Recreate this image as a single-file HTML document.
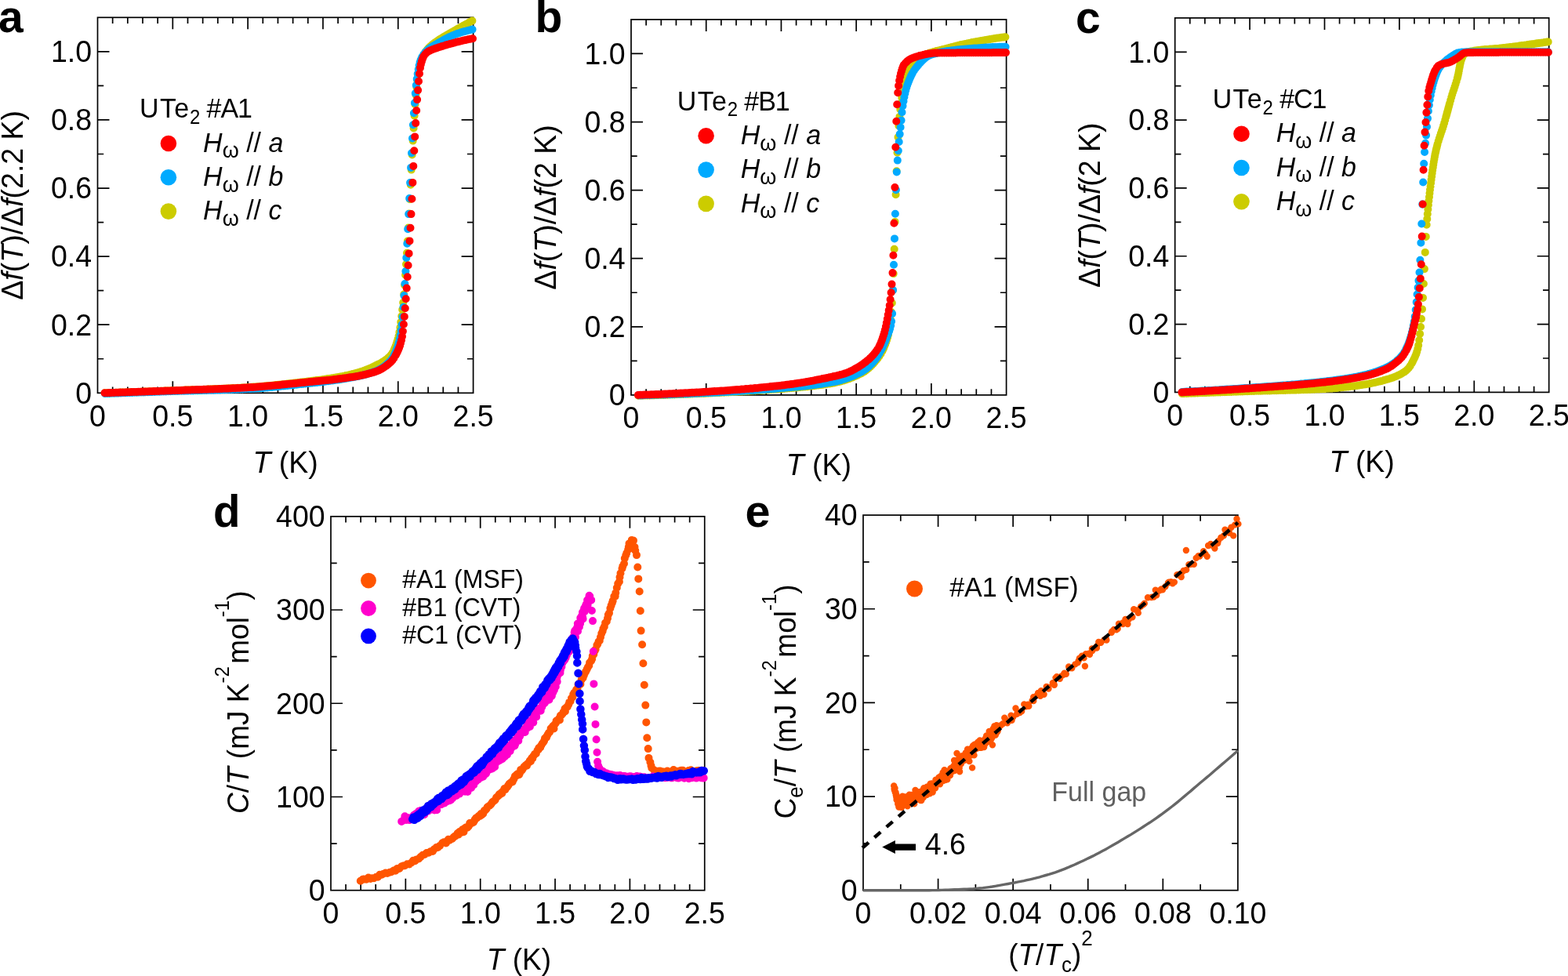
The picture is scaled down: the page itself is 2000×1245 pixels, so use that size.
<!DOCTYPE html><html><head><meta charset="utf-8"><style>html,body{margin:0;padding:0;background:#fff;overflow:hidden;}svg{display:block;}</style></head><body><svg width="2000" height="1245" viewBox="0 0 2000 1245">
<g font-family='"Liberation Sans", Arial, sans-serif' fill="#000">
<path d="M143.66 501.30v-7.7M143.66 22.30v7.7M162.83 501.30v-7.7M162.83 22.30v7.7M181.99 501.30v-7.7M181.99 22.30v7.7M201.16 501.30v-7.7M201.16 22.30v7.7M220.32 501.30v-15.0M220.32 22.30v15.0M239.48 501.30v-7.7M239.48 22.30v7.7M258.65 501.30v-7.7M258.65 22.30v7.7M277.81 501.30v-7.7M277.81 22.30v7.7M296.98 501.30v-7.7M296.98 22.30v7.7M316.14 501.30v-15.0M316.14 22.30v15.0M335.30 501.30v-7.7M335.30 22.30v7.7M354.47 501.30v-7.7M354.47 22.30v7.7M373.63 501.30v-7.7M373.63 22.30v7.7M392.80 501.30v-7.7M392.80 22.30v7.7M411.96 501.30v-15.0M411.96 22.30v15.0M431.12 501.30v-7.7M431.12 22.30v7.7M450.29 501.30v-7.7M450.29 22.30v7.7M469.45 501.30v-7.7M469.45 22.30v7.7M488.62 501.30v-7.7M488.62 22.30v7.7M507.78 501.30v-15.0M507.78 22.30v15.0M526.94 501.30v-7.7M526.94 22.30v7.7M546.11 501.30v-7.7M546.11 22.30v7.7M565.27 501.30v-7.7M565.27 22.30v7.7M584.44 501.30v-7.7M584.44 22.30v7.7M124.50 457.75h7.7M603.60 457.75h-7.7M124.50 414.21h15.0M603.60 414.21h-15.0M124.50 370.66h7.7M603.60 370.66h-7.7M124.50 327.12h15.0M603.60 327.12h-15.0M124.50 283.57h7.7M603.60 283.57h-7.7M124.50 240.03h15.0M603.60 240.03h-15.0M124.50 196.48h7.7M603.60 196.48h-7.7M124.50 152.94h15.0M603.60 152.94h-15.0M124.50 109.39h7.7M603.60 109.39h-7.7M124.50 65.85h15.0M603.60 65.85h-15.0" stroke="#000" stroke-width="1.7" fill="none"/>
<rect x="124.50" y="22.30" width="479.10" height="479.00" stroke="#000" stroke-width="1.7" fill="none"/>
<path d="M824.14 503.90v-7.7M824.14 24.90v7.7M843.29 503.90v-7.7M843.29 24.90v7.7M862.43 503.90v-7.7M862.43 24.90v7.7M881.58 503.90v-7.7M881.58 24.90v7.7M900.72 503.90v-15.0M900.72 24.90v15.0M919.86 503.90v-7.7M919.86 24.90v7.7M939.01 503.90v-7.7M939.01 24.90v7.7M958.15 503.90v-7.7M958.15 24.90v7.7M977.30 503.90v-7.7M977.30 24.90v7.7M996.44 503.90v-15.0M996.44 24.90v15.0M1015.58 503.90v-7.7M1015.58 24.90v7.7M1034.73 503.90v-7.7M1034.73 24.90v7.7M1053.87 503.90v-7.7M1053.87 24.90v7.7M1073.02 503.90v-7.7M1073.02 24.90v7.7M1092.16 503.90v-15.0M1092.16 24.90v15.0M1111.30 503.90v-7.7M1111.30 24.90v7.7M1130.45 503.90v-7.7M1130.45 24.90v7.7M1149.59 503.90v-7.7M1149.59 24.90v7.7M1168.74 503.90v-7.7M1168.74 24.90v7.7M1187.88 503.90v-15.0M1187.88 24.90v15.0M1207.02 503.90v-7.7M1207.02 24.90v7.7M1226.17 503.90v-7.7M1226.17 24.90v7.7M1245.31 503.90v-7.7M1245.31 24.90v7.7M1264.46 503.90v-7.7M1264.46 24.90v7.7M805.00 460.35h7.7M1283.60 460.35h-7.7M805.00 416.81h15.0M1283.60 416.81h-15.0M805.00 373.26h7.7M1283.60 373.26h-7.7M805.00 329.72h15.0M1283.60 329.72h-15.0M805.00 286.17h7.7M1283.60 286.17h-7.7M805.00 242.63h15.0M1283.60 242.63h-15.0M805.00 199.08h7.7M1283.60 199.08h-7.7M805.00 155.54h15.0M1283.60 155.54h-15.0M805.00 111.99h7.7M1283.60 111.99h-7.7M805.00 68.45h15.0M1283.60 68.45h-15.0" stroke="#000" stroke-width="1.7" fill="none"/>
<rect x="805.00" y="24.90" width="478.60" height="479.00" stroke="#000" stroke-width="1.7" fill="none"/>
<path d="M1517.78 500.40v-7.7M1517.78 22.90v7.7M1536.86 500.40v-7.7M1536.86 22.90v7.7M1555.94 500.40v-7.7M1555.94 22.90v7.7M1575.02 500.40v-7.7M1575.02 22.90v7.7M1594.10 500.40v-15.0M1594.10 22.90v15.0M1613.18 500.40v-7.7M1613.18 22.90v7.7M1632.26 500.40v-7.7M1632.26 22.90v7.7M1651.34 500.40v-7.7M1651.34 22.90v7.7M1670.42 500.40v-7.7M1670.42 22.90v7.7M1689.50 500.40v-15.0M1689.50 22.90v15.0M1708.58 500.40v-7.7M1708.58 22.90v7.7M1727.66 500.40v-7.7M1727.66 22.90v7.7M1746.74 500.40v-7.7M1746.74 22.90v7.7M1765.82 500.40v-7.7M1765.82 22.90v7.7M1784.90 500.40v-15.0M1784.90 22.90v15.0M1803.98 500.40v-7.7M1803.98 22.90v7.7M1823.06 500.40v-7.7M1823.06 22.90v7.7M1842.14 500.40v-7.7M1842.14 22.90v7.7M1861.22 500.40v-7.7M1861.22 22.90v7.7M1880.30 500.40v-15.0M1880.30 22.90v15.0M1899.38 500.40v-7.7M1899.38 22.90v7.7M1918.46 500.40v-7.7M1918.46 22.90v7.7M1937.54 500.40v-7.7M1937.54 22.90v7.7M1956.62 500.40v-7.7M1956.62 22.90v7.7M1498.70 456.99h7.7M1975.70 456.99h-7.7M1498.70 413.58h15.0M1975.70 413.58h-15.0M1498.70 370.17h7.7M1975.70 370.17h-7.7M1498.70 326.76h15.0M1975.70 326.76h-15.0M1498.70 283.35h7.7M1975.70 283.35h-7.7M1498.70 239.95h15.0M1975.70 239.95h-15.0M1498.70 196.54h7.7M1975.70 196.54h-7.7M1498.70 153.13h15.0M1975.70 153.13h-15.0M1498.70 109.72h7.7M1975.70 109.72h-7.7M1498.70 66.31h15.0M1975.70 66.31h-15.0" stroke="#000" stroke-width="1.7" fill="none"/>
<rect x="1498.70" y="22.90" width="477.00" height="477.50" stroke="#000" stroke-width="1.7" fill="none"/>
<path d="M441.07 1135.70v-7.7M441.07 658.80v7.7M460.14 1135.70v-7.7M460.14 658.80v7.7M479.21 1135.70v-7.7M479.21 658.80v7.7M498.28 1135.70v-7.7M498.28 658.80v7.7M517.35 1135.70v-15.0M517.35 658.80v15.0M536.42 1135.70v-7.7M536.42 658.80v7.7M555.49 1135.70v-7.7M555.49 658.80v7.7M574.56 1135.70v-7.7M574.56 658.80v7.7M593.63 1135.70v-7.7M593.63 658.80v7.7M612.70 1135.70v-15.0M612.70 658.80v15.0M631.77 1135.70v-7.7M631.77 658.80v7.7M650.84 1135.70v-7.7M650.84 658.80v7.7M669.91 1135.70v-7.7M669.91 658.80v7.7M688.98 1135.70v-7.7M688.98 658.80v7.7M708.05 1135.70v-15.0M708.05 658.80v15.0M727.12 1135.70v-7.7M727.12 658.80v7.7M746.19 1135.70v-7.7M746.19 658.80v7.7M765.26 1135.70v-7.7M765.26 658.80v7.7M784.33 1135.70v-7.7M784.33 658.80v7.7M803.40 1135.70v-15.0M803.40 658.80v15.0M822.47 1135.70v-7.7M822.47 658.80v7.7M841.54 1135.70v-7.7M841.54 658.80v7.7M860.61 1135.70v-7.7M860.61 658.80v7.7M879.68 1135.70v-7.7M879.68 658.80v7.7M422.00 1076.09h7.7M898.75 1076.09h-7.7M422.00 1016.48h15.0M898.75 1016.48h-15.0M422.00 956.86h7.7M898.75 956.86h-7.7M422.00 897.25h15.0M898.75 897.25h-15.0M422.00 837.64h7.7M898.75 837.64h-7.7M422.00 778.02h15.0M898.75 778.02h-15.0M422.00 718.41h7.7M898.75 718.41h-7.7" stroke="#000" stroke-width="1.7" fill="none"/>
<rect x="422.00" y="658.80" width="476.75" height="476.90" stroke="#000" stroke-width="1.7" fill="none"/>
<path d="M1148.79 1135.70v-7.7M1148.79 657.10v7.7M1196.58 1135.70v-15.0M1196.58 657.10v15.0M1244.37 1135.70v-7.7M1244.37 657.10v7.7M1292.16 1135.70v-15.0M1292.16 657.10v15.0M1339.95 1135.70v-7.7M1339.95 657.10v7.7M1387.74 1135.70v-15.0M1387.74 657.10v15.0M1435.53 1135.70v-7.7M1435.53 657.10v7.7M1483.32 1135.70v-15.0M1483.32 657.10v15.0M1531.11 1135.70v-7.7M1531.11 657.10v7.7M1101.00 1075.88h7.7M1578.90 1075.88h-7.7M1101.00 1016.05h15.0M1578.90 1016.05h-15.0M1101.00 956.23h7.7M1578.90 956.23h-7.7M1101.00 896.40h15.0M1578.90 896.40h-15.0M1101.00 836.58h7.7M1578.90 836.58h-7.7M1101.00 776.75h15.0M1578.90 776.75h-15.0M1101.00 716.92h7.7M1578.90 716.92h-7.7" stroke="#000" stroke-width="1.7" fill="none"/>
<rect x="1101.00" y="657.10" width="477.90" height="478.60" stroke="#000" stroke-width="1.7" fill="none"/>
<path d="M133.8 501.3h0M136.7 501.2h0M139.5 501.1h0M142.4 501.0h0M145.3 500.9h0M148.2 500.8h0M151.0 500.7h0M153.9 500.6h0M156.8 500.5h0M159.7 500.4h0M162.5 500.4h0M165.4 500.3h0M168.3 500.2h0M171.2 500.1h0M174.0 500.0h0M176.9 499.9h0M179.8 499.8h0M182.7 499.7h0M185.5 499.5h0M188.4 499.4h0M191.3 499.3h0M194.2 499.2h0M197.0 499.1h0M199.9 499.0h0M202.8 498.9h0M205.7 498.8h0M208.5 498.7h0M211.4 498.6h0M214.3 498.5h0M217.2 498.4h0M220.0 498.3h0M222.9 498.2h0M225.8 498.0h0M228.7 497.9h0M231.5 497.8h0M234.4 497.7h0M237.3 497.6h0M240.2 497.5h0M243.0 497.4h0M245.9 497.3h0M248.8 497.2h0M251.7 497.1h0M254.5 497.0h0M257.4 496.9h0M260.3 496.8h0M263.2 496.7h0M266.0 496.5h0M268.9 496.4h0M271.8 496.3h0M274.6 496.2h0M277.5 496.1h0M280.4 495.9h0M283.3 495.8h0M286.1 495.7h0M289.0 495.6h0M291.9 495.4h0M294.8 495.3h0M297.6 495.1h0M300.5 495.0h0M303.4 494.8h0M306.3 494.7h0M309.1 494.5h0M312.0 494.4h0M314.9 494.2h0M317.8 494.0h0M320.6 493.8h0M323.5 493.6h0M326.4 493.4h0M329.3 493.2h0M332.1 493.0h0M335.0 492.7h0M337.9 492.5h0M340.8 492.2h0M343.6 491.9h0M346.5 491.7h0M349.4 491.4h0M352.3 491.1h0M355.1 490.8h0M358.0 490.5h0M360.9 490.2h0M363.8 489.9h0M366.6 489.6h0M369.5 489.2h0M372.4 488.9h0M375.3 488.6h0M378.1 488.2h0M381.0 487.9h0M383.9 487.6h0M386.8 487.2h0M389.6 486.9h0M392.5 486.5h0M395.4 486.2h0M398.3 485.8h0M401.1 485.5h0M404.0 485.1h0M406.9 484.7h0M409.8 484.4h0M412.6 484.0h0M415.5 483.6h0M418.4 483.1h0M421.3 482.7h0M424.1 482.3h0M427.0 481.8h0M429.9 481.3h0M432.8 480.8h0M435.6 480.3h0M438.5 479.7h0M441.4 479.1h0M444.3 478.5h0M447.1 477.8h0M450.0 477.1h0M452.9 476.3h0M455.7 475.5h0M458.6 474.7h0M460.5 474.1h0M462.5 473.5h0M464.4 472.8h0M466.3 472.1h0M468.2 471.3h0M470.1 470.6h0M472.0 469.7h0M474.0 468.9h0M475.9 467.9h0M477.8 467.0h0M479.7 466.1h0M481.6 465.1h0M483.5 464.2h0M485.5 463.2h0M487.4 462.1h0M489.3 460.9h0M491.2 459.6h0M493.1 458.2h0M495.0 456.6h0M497.0 454.7h0M498.9 452.6h0M500.8 449.8h0M502.7 446.1h0M503.7 443.9h0M504.6 441.5h0M505.6 438.8h0M506.5 435.8h0M507.5 432.6h0M508.5 428.9h0M509.4 423.9h0M510.4 417.9h0M511.3 410.9h0M512.3 403.2h0M513.2 395.0h0M514.2 386.0h0M515.2 375.6h0M516.1 363.7h0M517.1 350.8h0M518.0 337.1h0M519.0 322.8h0M519.9 307.6h0M520.9 290.6h0M521.9 272.5h0M522.8 254.2h0M523.8 235.8h0M524.7 216.6h0M525.7 197.5h0M526.7 179.6h0M527.6 163.4h0M528.6 147.6h0M529.5 133.2h0M530.5 121.1h0M531.4 111.6h0M532.4 103.0h0M533.4 95.5h0M534.3 89.2h0M535.3 84.4h0M536.2 81.0h0M537.2 78.0h0M538.2 75.4h0M539.1 73.0h0M540.1 70.9h0M541.0 69.0h0M542.9 65.9h0M544.9 63.3h0M546.8 61.1h0M548.7 59.2h0M550.6 57.5h0M552.5 56.0h0M554.4 54.6h0M556.4 53.3h0M558.3 51.9h0M560.2 50.6h0M562.1 49.4h0M564.0 48.2h0M565.9 47.0h0M567.9 45.9h0M569.8 44.8h0M571.7 43.7h0M573.6 42.6h0M575.5 41.5h0M577.4 40.4h0M579.4 39.3h0M581.3 38.2h0M583.2 37.1h0M585.1 36.0h0M587.0 35.0h0M588.9 33.9h0M590.9 32.8h0M592.8 31.8h0M594.7 30.7h0M596.6 29.7h0M598.5 28.6h0M600.4 27.6h0M602.4 26.6h0" stroke="#cccc00" stroke-width="10" stroke-linecap="round" fill="none"/>
<path d="M134.1 502.1h0M137.0 502.0h0M139.8 501.9h0M142.7 501.8h0M145.6 501.7h0M148.5 501.6h0M151.3 501.5h0M154.2 501.4h0M157.1 501.3h0M160.0 501.2h0M162.8 501.1h0M165.7 501.0h0M168.6 500.9h0M171.5 500.8h0M174.3 500.7h0M177.2 500.6h0M180.1 500.5h0M183.0 500.4h0M185.8 500.3h0M188.7 500.2h0M191.6 500.1h0M194.4 500.0h0M197.3 499.9h0M200.2 499.8h0M203.1 499.7h0M205.9 499.6h0M208.8 499.5h0M211.7 499.4h0M214.6 499.3h0M217.4 499.2h0M220.3 499.1h0M223.2 499.0h0M226.1 498.9h0M228.9 498.8h0M231.8 498.8h0M234.7 498.7h0M237.6 498.6h0M240.4 498.5h0M243.3 498.4h0M246.2 498.4h0M249.1 498.3h0M251.9 498.2h0M254.8 498.1h0M257.7 498.1h0M260.6 498.0h0M263.4 497.9h0M266.3 497.8h0M269.2 497.7h0M272.1 497.7h0M274.9 497.6h0M277.8 497.5h0M280.7 497.4h0M283.6 497.3h0M286.4 497.2h0M289.3 497.1h0M292.2 497.0h0M295.1 496.9h0M297.9 496.8h0M300.8 496.7h0M303.7 496.6h0M306.6 496.5h0M309.4 496.4h0M312.3 496.3h0M315.2 496.1h0M318.1 496.0h0M320.9 495.8h0M323.8 495.7h0M326.7 495.5h0M329.6 495.3h0M332.4 495.1h0M335.3 494.9h0M338.2 494.6h0M341.1 494.4h0M343.9 494.1h0M346.8 493.9h0M349.7 493.6h0M352.6 493.3h0M355.4 493.1h0M358.3 492.8h0M361.2 492.5h0M364.0 492.2h0M366.9 491.9h0M369.8 491.6h0M372.7 491.3h0M375.5 491.0h0M378.4 490.7h0M381.3 490.3h0M384.2 490.0h0M387.0 489.7h0M389.9 489.4h0M392.8 489.1h0M395.7 488.8h0M398.5 488.5h0M401.4 488.2h0M404.3 487.9h0M407.2 487.6h0M410.0 487.2h0M412.9 486.9h0M415.8 486.5h0M418.7 486.2h0M421.5 485.8h0M424.4 485.4h0M427.3 485.0h0M430.2 484.6h0M433.0 484.2h0M435.9 483.7h0M438.8 483.3h0M441.7 482.8h0M444.5 482.3h0M447.4 481.8h0M450.3 481.3h0M453.2 480.7h0M456.0 480.1h0M458.9 479.5h0M461.8 478.9h0M464.7 478.1h0M467.5 477.4h0M470.4 476.5h0M472.3 475.9h0M474.2 475.3h0M476.2 474.6h0M478.1 473.9h0M480.0 473.2h0M481.9 472.3h0M483.8 471.3h0M485.7 470.2h0M487.7 469.0h0M489.6 467.7h0M491.5 466.2h0M493.4 464.6h0M495.3 462.9h0M497.2 461.0h0M499.2 458.8h0M501.1 456.1h0M503.0 452.6h0M503.9 450.6h0M504.9 448.3h0M505.9 445.9h0M506.8 443.2h0M507.8 440.3h0M508.7 436.9h0M509.7 432.6h0M510.7 427.4h0M511.6 421.3h0M512.6 414.2h0M513.5 404.6h0M514.5 391.8h0M515.4 377.1h0M516.4 362.0h0M517.4 346.1h0M518.3 328.9h0M519.3 310.7h0M520.2 292.3h0M521.2 273.1h0M522.2 253.1h0M523.1 233.1h0M524.1 213.9h0M525.0 195.2h0M526.0 176.5h0M526.9 159.2h0M527.9 144.2h0M528.9 131.2h0M529.8 119.1h0M530.8 108.8h0M531.7 100.7h0M532.7 94.2h0M533.7 88.5h0M534.6 83.6h0M535.6 79.6h0M536.5 76.7h0M537.5 74.5h0M538.4 72.6h0M540.4 69.4h0M542.3 66.9h0M544.2 64.9h0M546.1 63.1h0M548.0 61.6h0M549.9 60.3h0M551.9 59.0h0M553.8 57.9h0M555.7 56.8h0M557.6 55.7h0M559.5 54.6h0M561.4 53.5h0M563.4 52.4h0M565.3 51.3h0M567.2 50.2h0M569.1 49.2h0M571.0 48.2h0M572.9 47.3h0M574.9 46.4h0M576.8 45.6h0M578.7 44.8h0M580.6 44.0h0M582.5 43.3h0M584.4 42.6h0M586.4 42.0h0M588.3 41.3h0M590.2 40.8h0M593.1 39.9h0M595.9 39.2h0M598.8 38.4h0M601.7 37.8h0M602.6 37.6h0" stroke="#00aaff" stroke-width="10" stroke-linecap="round" fill="none"/>
<path d="M133.5 501.3h0M136.4 501.2h0M139.3 501.1h0M142.1 501.0h0M145.0 500.9h0M147.9 500.8h0M150.8 500.7h0M153.6 500.6h0M156.5 500.5h0M159.4 500.4h0M162.3 500.3h0M165.1 500.2h0M168.0 500.1h0M170.9 500.0h0M173.8 499.9h0M176.6 499.8h0M179.5 499.7h0M182.4 499.6h0M185.2 499.5h0M188.1 499.4h0M191.0 499.3h0M193.9 499.2h0M196.7 499.1h0M199.6 499.0h0M202.5 498.9h0M205.4 498.8h0M208.2 498.7h0M211.1 498.6h0M214.0 498.5h0M216.9 498.4h0M219.7 498.3h0M222.6 498.2h0M225.5 498.1h0M228.4 498.0h0M231.2 497.9h0M234.1 497.7h0M237.0 497.6h0M239.9 497.5h0M242.7 497.4h0M245.6 497.3h0M248.5 497.2h0M251.4 497.1h0M254.2 497.0h0M257.1 496.9h0M260.0 496.8h0M262.9 496.7h0M265.7 496.6h0M268.6 496.5h0M271.5 496.4h0M274.4 496.3h0M277.2 496.2h0M280.1 496.1h0M283.0 495.9h0M285.9 495.8h0M288.7 495.7h0M291.6 495.6h0M294.5 495.4h0M297.4 495.3h0M300.2 495.2h0M303.1 495.0h0M306.0 494.9h0M308.9 494.7h0M311.7 494.6h0M314.6 494.4h0M317.5 494.3h0M320.4 494.1h0M323.2 493.9h0M326.1 493.7h0M329.0 493.5h0M331.9 493.3h0M334.7 493.0h0M337.6 492.8h0M340.5 492.5h0M343.4 492.3h0M346.2 492.0h0M349.1 491.7h0M352.0 491.5h0M354.9 491.2h0M357.7 490.9h0M360.6 490.6h0M363.5 490.3h0M366.3 490.0h0M369.2 489.7h0M372.1 489.5h0M375.0 489.2h0M377.8 488.9h0M380.7 488.6h0M383.6 488.3h0M386.5 488.0h0M389.3 487.7h0M392.2 487.4h0M395.1 487.1h0M398.0 486.9h0M400.8 486.6h0M403.7 486.3h0M406.6 486.1h0M409.5 485.8h0M412.3 485.5h0M415.2 485.3h0M418.1 485.0h0M421.0 484.7h0M423.8 484.4h0M426.7 484.0h0M429.6 483.7h0M432.5 483.3h0M435.3 483.0h0M438.2 482.6h0M441.1 482.2h0M444.0 481.8h0M446.8 481.3h0M449.7 480.9h0M452.6 480.4h0M455.5 479.9h0M458.3 479.4h0M461.2 478.8h0M464.1 478.2h0M467.0 477.5h0M469.8 476.8h0M472.7 476.0h0M475.6 475.2h0M477.5 474.6h0M479.4 474.0h0M481.3 473.2h0M483.3 472.4h0M485.2 471.4h0M487.1 470.4h0M489.0 469.2h0M490.9 468.0h0M492.8 466.6h0M494.7 465.1h0M496.7 463.5h0M498.6 461.7h0M500.5 459.6h0M502.4 457.0h0M504.3 453.8h0M505.3 452.1h0M506.2 450.2h0M507.2 448.2h0M508.2 446.0h0M509.1 443.7h0M510.1 441.0h0M511.0 437.8h0M512.0 434.0h0M513.0 429.3h0M513.9 422.6h0M514.9 413.8h0M515.8 403.9h0M516.8 393.3h0M517.7 381.2h0M518.7 367.6h0M519.7 353.2h0M520.6 338.5h0M521.6 323.4h0M522.5 307.4h0M523.5 290.7h0M524.5 273.1h0M525.4 253.8h0M526.4 232.9h0M527.3 211.9h0M528.3 192.3h0M529.2 174.4h0M530.2 157.1h0M531.2 141.0h0M532.1 127.1h0M533.1 115.1h0M534.0 103.8h0M535.0 94.0h0M536.0 86.6h0M536.9 82.1h0M537.9 78.4h0M538.8 75.5h0M539.8 73.1h0M540.7 71.2h0M542.7 68.7h0M544.6 66.9h0M546.5 65.6h0M548.4 64.6h0M550.3 63.7h0M552.2 62.9h0M554.2 62.2h0M556.1 61.6h0M558.0 60.9h0M559.9 60.3h0M561.8 59.7h0M563.7 59.1h0M565.7 58.5h0M568.5 57.6h0M571.4 56.8h0M574.3 56.0h0M577.2 55.2h0M580.0 54.4h0M582.9 53.6h0M585.8 52.9h0M588.7 52.2h0M591.5 51.5h0M594.4 50.9h0M597.3 50.3h0M600.2 49.8h0M603.0 49.3h0" stroke="#ff0000" stroke-width="10" stroke-linecap="round" fill="none"/>
<path d="M814.3 504.8h0M817.2 504.7h0M820.0 504.6h0M822.9 504.5h0M825.8 504.5h0M828.6 504.4h0M831.5 504.3h0M834.4 504.2h0M837.3 504.1h0M840.1 504.0h0M843.0 504.0h0M845.9 503.9h0M848.7 503.8h0M851.6 503.7h0M854.5 503.6h0M857.4 503.5h0M860.2 503.4h0M863.1 503.3h0M866.0 503.1h0M868.8 503.0h0M871.7 502.9h0M874.6 502.8h0M877.5 502.7h0M880.3 502.6h0M883.2 502.5h0M886.1 502.3h0M888.9 502.2h0M891.8 502.1h0M894.7 502.0h0M897.6 501.9h0M900.4 501.7h0M903.3 501.6h0M906.2 501.5h0M909.0 501.3h0M911.9 501.2h0M914.8 501.1h0M917.7 500.9h0M920.5 500.8h0M923.4 500.7h0M926.3 500.5h0M929.1 500.4h0M932.0 500.2h0M934.9 500.1h0M937.8 499.9h0M940.6 499.8h0M943.5 499.6h0M946.4 499.4h0M949.3 499.3h0M952.1 499.1h0M955.0 498.9h0M957.9 498.8h0M960.7 498.6h0M963.6 498.4h0M966.5 498.2h0M969.4 498.0h0M972.2 497.8h0M975.1 497.6h0M978.0 497.4h0M980.8 497.2h0M983.7 497.0h0M986.6 496.8h0M989.5 496.6h0M992.3 496.4h0M995.2 496.2h0M998.1 495.9h0M1000.9 495.7h0M1003.8 495.5h0M1006.7 495.2h0M1009.6 495.0h0M1012.4 494.8h0M1015.3 494.5h0M1018.2 494.3h0M1021.0 494.0h0M1023.9 493.7h0M1026.8 493.4h0M1029.7 493.2h0M1032.5 492.8h0M1035.4 492.5h0M1038.3 492.2h0M1041.1 491.8h0M1044.0 491.5h0M1046.9 491.1h0M1049.8 490.7h0M1052.6 490.3h0M1055.5 489.8h0M1058.4 489.4h0M1061.2 488.9h0M1064.1 488.4h0M1067.0 487.8h0M1069.9 487.1h0M1072.7 486.4h0M1075.6 485.6h0M1077.5 485.0h0M1079.4 484.4h0M1081.3 483.7h0M1083.3 483.1h0M1085.2 482.3h0M1087.1 481.6h0M1089.0 480.8h0M1090.9 480.0h0M1092.8 479.1h0M1094.7 478.2h0M1096.7 477.3h0M1098.6 476.4h0M1100.5 475.3h0M1102.4 474.1h0M1104.3 472.7h0M1106.2 471.2h0M1108.1 469.6h0M1110.1 467.9h0M1112.0 466.0h0M1113.9 463.9h0M1115.8 461.8h0M1117.7 459.5h0M1119.6 457.1h0M1121.5 454.5h0M1123.5 451.4h0M1125.4 447.9h0M1126.3 446.0h0M1127.3 443.9h0M1128.2 441.6h0M1129.2 439.2h0M1130.2 436.5h0M1131.1 433.7h0M1132.1 430.6h0M1133.0 427.1h0M1134.0 422.1h0M1134.9 415.5h0M1135.9 407.5h0M1136.9 398.1h0M1137.8 386.5h0M1138.8 370.1h0M1139.7 349.1h0M1140.7 317.8h0M1141.6 282.9h0M1142.6 248.2h0M1143.6 218.3h0M1144.5 194.7h0M1145.5 175.0h0M1146.4 160.4h0M1147.4 148.9h0M1148.3 139.4h0M1149.3 131.5h0M1150.3 124.7h0M1151.2 118.4h0M1152.2 112.7h0M1153.1 107.6h0M1154.1 103.2h0M1155.0 99.8h0M1156.0 97.1h0M1157.0 94.7h0M1157.9 92.5h0M1158.9 90.5h0M1159.8 88.7h0M1161.7 85.6h0M1163.7 83.0h0M1165.6 80.8h0M1167.5 78.7h0M1169.4 76.8h0M1171.3 75.2h0M1173.2 73.7h0M1175.1 72.4h0M1177.1 71.2h0M1179.0 70.3h0M1180.9 69.5h0M1182.8 68.7h0M1184.7 68.0h0M1186.6 67.3h0M1188.6 66.7h0M1191.4 65.9h0M1194.3 65.1h0M1197.2 64.4h0M1200.0 63.7h0M1202.9 63.0h0M1205.8 62.2h0M1208.7 61.5h0M1211.5 60.7h0M1214.4 60.0h0M1217.3 59.2h0M1220.1 58.5h0M1223.0 57.8h0M1225.9 57.1h0M1228.8 56.5h0M1231.6 55.9h0M1234.5 55.3h0M1237.4 54.7h0M1240.2 54.1h0M1243.1 53.6h0M1246.0 53.0h0M1248.9 52.5h0M1251.7 52.0h0M1254.6 51.4h0M1257.5 50.9h0M1260.3 50.4h0M1263.2 50.0h0M1266.1 49.5h0M1269.0 49.0h0M1271.8 48.6h0M1274.7 48.2h0M1277.6 47.8h0M1280.4 47.4h0M1282.4 47.2h0" stroke="#cccc00" stroke-width="10" stroke-linecap="round" fill="none"/>
<path d="M814.6 504.3h0M817.4 504.3h0M820.3 504.2h0M823.2 504.1h0M826.1 504.0h0M828.9 504.0h0M831.8 503.9h0M834.7 503.8h0M837.5 503.7h0M840.4 503.6h0M843.3 503.5h0M846.2 503.5h0M849.0 503.4h0M851.9 503.3h0M854.8 503.2h0M857.6 503.1h0M860.5 503.0h0M863.4 502.8h0M866.3 502.7h0M869.1 502.6h0M872.0 502.5h0M874.9 502.4h0M877.7 502.3h0M880.6 502.2h0M883.5 502.0h0M886.4 501.9h0M889.2 501.8h0M892.1 501.7h0M895.0 501.5h0M897.8 501.4h0M900.7 501.3h0M903.6 501.2h0M906.5 501.0h0M909.3 500.9h0M912.2 500.7h0M915.1 500.6h0M917.9 500.5h0M920.8 500.3h0M923.7 500.2h0M926.6 500.0h0M929.4 499.8h0M932.3 499.7h0M935.2 499.5h0M938.1 499.4h0M940.9 499.2h0M943.8 499.0h0M946.7 498.8h0M949.5 498.6h0M952.4 498.5h0M955.3 498.3h0M958.2 498.1h0M961.0 497.9h0M963.9 497.7h0M966.8 497.5h0M969.6 497.3h0M972.5 497.1h0M975.4 496.9h0M978.3 496.6h0M981.1 496.4h0M984.0 496.2h0M986.9 496.0h0M989.7 495.7h0M992.6 495.5h0M995.5 495.3h0M998.4 495.0h0M1001.2 494.8h0M1004.1 494.5h0M1007.0 494.3h0M1009.8 494.0h0M1012.7 493.8h0M1015.6 493.5h0M1018.5 493.2h0M1021.3 493.0h0M1024.2 492.7h0M1027.1 492.4h0M1029.9 492.1h0M1032.8 491.7h0M1035.7 491.4h0M1038.6 491.0h0M1041.4 490.7h0M1044.3 490.3h0M1047.2 489.9h0M1050.0 489.4h0M1052.9 489.0h0M1055.8 488.5h0M1058.7 488.0h0M1061.5 487.5h0M1064.4 487.0h0M1067.3 486.4h0M1070.1 485.7h0M1073.0 484.9h0M1075.9 484.0h0M1077.8 483.4h0M1079.7 482.8h0M1081.6 482.1h0M1083.5 481.4h0M1085.5 480.7h0M1087.4 479.9h0M1089.3 479.1h0M1091.2 478.2h0M1093.1 477.3h0M1095.0 476.4h0M1096.9 475.5h0M1098.9 474.4h0M1100.8 473.3h0M1102.7 472.0h0M1104.6 470.6h0M1106.5 469.0h0M1108.4 467.4h0M1110.3 465.5h0M1112.3 463.6h0M1114.2 461.5h0M1116.1 459.2h0M1118.0 456.6h0M1119.9 453.8h0M1121.8 450.6h0M1123.7 447.1h0M1124.7 445.2h0M1125.7 443.2h0M1126.6 441.1h0M1127.6 439.0h0M1128.5 436.8h0M1129.5 434.4h0M1130.4 432.0h0M1131.4 429.5h0M1132.4 426.9h0M1133.3 424.4h0M1134.3 422.0h0M1135.2 419.1h0M1136.2 415.3h0M1137.1 410.0h0M1138.1 400.1h0M1139.1 370.1h0M1140.0 337.7h0M1141.0 304.4h0M1141.9 272.7h0M1142.9 242.3h0M1143.8 219.4h0M1144.8 204.6h0M1145.8 192.3h0M1146.7 181.0h0M1147.7 171.1h0M1148.6 162.4h0M1149.6 153.6h0M1150.5 143.2h0M1151.5 135.1h0M1152.5 129.1h0M1153.4 123.8h0M1154.4 119.2h0M1155.3 115.2h0M1156.3 111.8h0M1157.2 108.8h0M1158.2 106.1h0M1159.2 103.6h0M1160.1 101.2h0M1161.1 99.0h0M1162.0 96.9h0M1163.0 95.0h0M1163.9 93.2h0M1165.9 90.0h0M1167.8 87.3h0M1169.7 84.9h0M1171.6 82.6h0M1173.5 80.4h0M1175.4 78.4h0M1177.4 76.5h0M1179.3 74.8h0M1181.2 73.3h0M1183.1 72.0h0M1185.0 70.9h0M1186.9 70.1h0M1188.8 69.5h0M1191.7 68.7h0M1194.6 67.9h0M1197.5 67.3h0M1200.3 66.6h0M1203.2 66.1h0M1206.1 65.6h0M1208.9 65.1h0M1211.8 64.7h0M1214.7 64.3h0M1217.6 63.9h0M1220.4 63.6h0M1223.3 63.3h0M1226.2 63.0h0M1229.0 62.8h0M1231.9 62.5h0M1234.8 62.3h0M1237.7 62.1h0M1240.5 61.8h0M1243.4 61.6h0M1246.3 61.4h0M1249.1 61.2h0M1252.0 61.0h0M1254.9 60.8h0M1257.8 60.6h0M1260.6 60.4h0M1263.5 60.3h0M1266.4 60.1h0M1269.2 60.0h0M1272.1 59.9h0M1275.0 59.8h0M1277.9 59.8h0M1280.7 59.7h0M1282.6 59.7h0" stroke="#00aaff" stroke-width="10" stroke-linecap="round" fill="none"/>
<path d="M814.0 503.9h0M816.9 503.8h0M819.7 503.7h0M822.6 503.6h0M825.5 503.5h0M828.4 503.4h0M831.2 503.3h0M834.1 503.2h0M837.0 503.1h0M839.8 503.0h0M842.7 502.9h0M845.6 502.7h0M848.5 502.6h0M851.3 502.5h0M854.2 502.3h0M857.1 502.2h0M859.9 502.1h0M862.8 501.9h0M865.7 501.8h0M868.6 501.6h0M871.4 501.5h0M874.3 501.3h0M877.2 501.2h0M880.0 501.0h0M882.9 500.8h0M885.8 500.7h0M888.7 500.5h0M891.5 500.4h0M894.4 500.2h0M897.3 500.0h0M900.1 499.8h0M903.0 499.7h0M905.9 499.5h0M908.8 499.3h0M911.6 499.1h0M914.5 498.9h0M917.4 498.7h0M920.2 498.6h0M923.1 498.4h0M926.0 498.2h0M928.9 497.9h0M931.7 497.7h0M934.6 497.5h0M937.5 497.3h0M940.3 497.1h0M943.2 496.9h0M946.1 496.6h0M949.0 496.4h0M951.8 496.1h0M954.7 495.9h0M957.6 495.6h0M960.4 495.4h0M963.3 495.1h0M966.2 494.9h0M969.1 494.6h0M971.9 494.3h0M974.8 494.0h0M977.7 493.7h0M980.6 493.4h0M983.4 493.1h0M986.3 492.8h0M989.2 492.5h0M992.0 492.2h0M994.9 491.9h0M997.8 491.6h0M1000.7 491.2h0M1003.5 490.8h0M1006.4 490.5h0M1009.3 490.1h0M1012.1 489.7h0M1015.0 489.2h0M1017.9 488.8h0M1020.8 488.4h0M1023.6 487.9h0M1026.5 487.4h0M1029.4 486.9h0M1032.2 486.4h0M1035.1 485.9h0M1038.0 485.4h0M1040.9 484.8h0M1043.7 484.3h0M1046.6 483.7h0M1049.5 483.1h0M1052.3 482.6h0M1055.2 482.0h0M1058.1 481.3h0M1061.0 480.7h0M1063.8 480.1h0M1066.7 479.4h0M1069.6 478.7h0M1072.4 478.0h0M1075.3 477.2h0M1077.2 476.6h0M1079.1 475.9h0M1081.1 475.2h0M1083.0 474.5h0M1084.9 473.6h0M1086.8 472.7h0M1088.7 471.7h0M1090.6 470.6h0M1092.5 469.5h0M1094.5 468.4h0M1096.4 467.2h0M1098.3 466.0h0M1100.2 464.7h0M1102.1 463.3h0M1104.0 461.9h0M1105.9 460.3h0M1107.9 458.7h0M1109.8 456.9h0M1111.7 455.0h0M1113.6 453.0h0M1115.5 450.8h0M1117.4 448.3h0M1119.3 445.5h0M1121.3 442.2h0M1122.2 440.4h0M1123.2 438.3h0M1124.1 435.9h0M1125.1 433.4h0M1126.0 430.6h0M1127.0 427.6h0M1128.0 424.4h0M1128.9 420.7h0M1129.9 416.5h0M1130.8 411.9h0M1131.8 406.9h0M1132.7 401.6h0M1133.7 395.9h0M1134.7 389.5h0M1135.6 382.0h0M1136.6 373.3h0M1137.5 362.6h0M1138.5 348.1h0M1139.4 325.8h0M1140.4 284.8h0M1141.4 239.0h0M1142.3 187.7h0M1143.3 154.8h0M1144.2 133.3h0M1145.2 118.2h0M1146.1 109.4h0M1147.1 102.8h0M1148.1 97.8h0M1149.0 93.8h0M1150.0 90.4h0M1150.9 87.4h0M1151.9 84.8h0M1152.8 82.9h0M1154.8 80.5h0M1156.7 78.6h0M1158.6 77.0h0M1160.5 75.7h0M1162.4 74.7h0M1164.3 73.9h0M1166.2 73.2h0M1168.2 72.6h0M1170.1 72.0h0M1172.9 71.1h0M1175.8 70.4h0M1178.7 69.7h0M1181.6 69.1h0M1184.4 68.6h0M1187.3 68.2h0M1190.2 67.8h0M1193.0 67.6h0M1195.9 67.6h0M1198.8 67.5h0M1201.7 67.5h0M1204.5 67.5h0M1207.4 67.5h0M1210.3 67.4h0M1213.2 67.4h0M1216.0 67.4h0M1218.9 67.4h0M1221.8 67.3h0M1224.6 67.3h0M1227.5 67.3h0M1230.4 67.3h0M1233.3 67.3h0M1236.1 67.2h0M1239.0 67.2h0M1241.9 67.2h0M1244.7 67.2h0M1247.6 67.2h0M1250.5 67.2h0M1253.4 67.2h0M1256.2 67.2h0M1259.1 67.2h0M1262.0 67.2h0M1264.8 67.2h0M1267.7 67.1h0M1270.6 67.1h0M1273.5 67.1h0M1276.3 67.1h0M1279.2 67.1h0M1282.1 67.1h0M1283.0 67.1h0" stroke="#ff0000" stroke-width="10" stroke-linecap="round" fill="none"/>
<path d="M1507.8 502.1h0M1510.6 502.0h0M1513.5 501.9h0M1516.3 501.8h0M1519.2 501.7h0M1522.1 501.6h0M1524.9 501.5h0M1527.8 501.4h0M1530.7 501.3h0M1533.5 501.2h0M1536.4 501.1h0M1539.2 501.0h0M1542.1 500.9h0M1545.0 500.8h0M1547.8 500.7h0M1550.7 500.6h0M1553.6 500.5h0M1556.4 500.4h0M1559.3 500.3h0M1562.1 500.2h0M1565.0 500.1h0M1567.9 500.0h0M1570.7 499.9h0M1573.6 499.8h0M1576.5 499.7h0M1579.3 499.6h0M1582.2 499.5h0M1585.0 499.4h0M1587.9 499.3h0M1590.8 499.2h0M1593.6 499.1h0M1596.5 499.0h0M1599.3 498.9h0M1602.2 498.8h0M1605.1 498.8h0M1607.9 498.7h0M1610.8 498.6h0M1613.7 498.5h0M1616.5 498.4h0M1619.4 498.4h0M1622.2 498.3h0M1625.1 498.2h0M1628.0 498.2h0M1630.8 498.1h0M1633.7 498.0h0M1636.6 497.9h0M1639.4 497.9h0M1642.3 497.8h0M1645.1 497.7h0M1648.0 497.6h0M1650.9 497.6h0M1653.7 497.5h0M1656.6 497.4h0M1659.4 497.3h0M1662.3 497.2h0M1665.2 497.1h0M1668.0 497.0h0M1670.9 496.9h0M1673.8 496.8h0M1676.6 496.7h0M1679.5 496.5h0M1682.3 496.4h0M1685.2 496.3h0M1688.1 496.1h0M1690.9 496.0h0M1693.8 495.8h0M1696.7 495.6h0M1699.5 495.4h0M1702.4 495.2h0M1705.2 494.9h0M1708.1 494.6h0M1711.0 494.3h0M1713.8 494.0h0M1716.7 493.7h0M1719.6 493.4h0M1722.4 493.0h0M1725.3 492.7h0M1728.1 492.3h0M1731.0 491.9h0M1733.9 491.5h0M1736.7 491.1h0M1739.6 490.6h0M1742.4 490.2h0M1745.3 489.7h0M1748.2 489.1h0M1751.0 488.5h0M1753.9 487.9h0M1756.8 487.3h0M1759.6 486.6h0M1762.5 485.9h0M1765.3 485.1h0M1768.2 484.3h0M1771.1 483.5h0M1773.9 482.6h0M1775.8 481.9h0M1777.7 481.2h0M1779.7 480.5h0M1781.6 479.7h0M1783.5 478.8h0M1785.4 477.9h0M1787.3 476.9h0M1789.2 475.8h0M1791.1 474.6h0M1793.0 473.2h0M1794.9 471.5h0M1796.8 469.5h0M1798.7 466.9h0M1800.6 463.7h0M1801.6 461.9h0M1802.5 460.0h0M1803.5 458.0h0M1804.5 456.0h0M1805.4 453.8h0M1806.4 451.4h0M1807.3 448.6h0M1808.3 445.1h0M1809.2 440.6h0M1810.2 434.0h0M1811.1 425.9h0M1812.1 417.0h0M1813.0 406.7h0M1814.0 394.4h0M1815.0 379.9h0M1815.9 362.0h0M1816.9 343.1h0M1817.8 321.9h0M1818.8 301.9h0M1819.7 286.8h0" stroke="#cccc00" stroke-width="10" stroke-linecap="round" fill="none"/>
<path d="M1820.3 279.4h0M1820.8 273.0h0M1821.4 267.1h0M1821.9 261.5h0M1822.4 256.3h0M1823.0 251.3h0M1823.5 246.6h0M1824.0 242.1h0M1824.6 237.7h0M1825.1 233.5h0M1825.6 229.2h0M1826.2 225.1h0M1826.7 221.1h0M1827.2 217.3h0M1827.8 213.5h0M1828.3 210.0h0M1828.8 206.5h0M1829.4 203.3h0M1829.9 200.3h0M1830.4 197.4h0M1831.0 194.8h0M1831.5 192.4h0M1832.0 190.1h0M1832.6 187.9h0M1833.1 185.8h0M1833.6 183.8h0M1834.7 180.1h0M1835.8 176.6h0M1836.9 173.3h0M1837.9 170.1h0M1839.0 166.9h0M1840.1 163.7h0M1841.1 160.4h0M1842.2 156.9h0M1843.3 153.1h0M1844.3 149.3h0M1844.9 147.3h0M1845.4 145.4h0M1845.9 143.4h0M1846.5 141.5h0M1847.0 139.5h0M1847.5 137.6h0M1848.1 135.6h0M1848.6 133.6h0M1849.1 131.7h0M1850.2 127.9h0M1851.3 124.1h0M1852.3 120.5h0M1853.4 117.1h0M1854.5 113.9h0M1855.6 110.6h0M1856.6 107.3h0M1857.7 103.8h0M1858.8 100.0h0M1859.3 98.0h0M1859.8 95.7h0M1860.4 93.1h0M1860.9 90.2h0M1861.4 87.3h0M1862.0 84.4h0M1862.5 81.7h0M1863.0 79.4h0M1864.1 76.1h0M1865.2 73.3h0M1866.2 71.0h0M1867.8 69.1h0M1869.4 67.8h0M1871.6 66.6h0M1873.7 66.1h0M1875.9 65.6h0M1878.0 65.2h0M1880.1 64.8h0M1882.3 64.5h0M1884.4 64.2h0M1886.5 63.9h0M1888.7 63.7h0M1890.8 63.5h0M1893.0 63.3h0M1895.1 63.1h0M1897.2 62.9h0M1899.4 62.8h0M1901.5 62.6h0M1903.6 62.5h0M1905.8 62.3h0M1907.9 62.1h0M1910.0 62.0h0M1912.2 61.8h0M1914.3 61.6h0M1916.5 61.3h0M1918.6 61.1h0M1920.7 60.8h0M1922.9 60.5h0M1925.0 60.3h0M1927.1 60.0h0M1929.3 59.7h0M1931.4 59.4h0M1933.6 59.2h0M1935.7 58.9h0M1937.8 58.6h0M1940.0 58.3h0M1942.1 58.0h0M1944.2 57.7h0M1946.4 57.4h0M1948.5 57.1h0M1950.6 56.8h0M1952.8 56.5h0M1954.9 56.2h0M1957.1 55.9h0M1959.2 55.6h0M1961.3 55.3h0M1963.5 55.0h0M1965.6 54.7h0M1967.7 54.4h0M1969.9 54.1h0M1972.0 53.8h0M1974.2 53.4h0M1974.7 53.4h0" stroke="#cccc00" stroke-width="10" stroke-linecap="round" fill="none"/>
<path d="M1508.0 499.9h0M1510.9 499.8h0M1513.8 499.6h0M1516.6 499.5h0M1519.5 499.3h0M1522.4 499.2h0M1525.2 499.0h0M1528.1 498.9h0M1530.9 498.7h0M1533.8 498.6h0M1536.7 498.4h0M1539.5 498.2h0M1542.4 498.1h0M1545.3 497.9h0M1548.1 497.7h0M1551.0 497.5h0M1553.8 497.4h0M1556.7 497.2h0M1559.6 497.0h0M1562.4 496.8h0M1565.3 496.6h0M1568.2 496.5h0M1571.0 496.3h0M1573.9 496.1h0M1576.7 495.9h0M1579.6 495.7h0M1582.5 495.5h0M1585.3 495.3h0M1588.2 495.1h0M1591.0 494.9h0M1593.9 494.7h0M1596.8 494.5h0M1599.6 494.3h0M1602.5 494.1h0M1605.4 493.9h0M1608.2 493.7h0M1611.1 493.5h0M1613.9 493.3h0M1616.8 493.1h0M1619.7 492.9h0M1622.5 492.7h0M1625.4 492.5h0M1628.3 492.2h0M1631.1 492.0h0M1634.0 491.8h0M1636.8 491.6h0M1639.7 491.4h0M1642.6 491.1h0M1645.4 490.9h0M1648.3 490.6h0M1651.1 490.4h0M1654.0 490.2h0M1656.9 489.9h0M1659.7 489.6h0M1662.6 489.4h0M1665.5 489.1h0M1668.3 488.8h0M1671.2 488.5h0M1674.0 488.3h0M1676.9 488.0h0M1679.8 487.7h0M1682.6 487.4h0M1685.5 487.0h0M1688.4 486.7h0M1691.2 486.4h0M1694.1 486.1h0M1696.9 485.7h0M1699.8 485.4h0M1702.7 485.0h0M1705.5 484.6h0M1708.4 484.2h0M1711.3 483.8h0M1714.1 483.4h0M1717.0 482.9h0M1719.8 482.5h0M1722.7 482.0h0M1725.6 481.5h0M1728.4 480.9h0M1731.3 480.4h0M1734.1 479.8h0M1737.0 479.2h0M1739.9 478.5h0M1742.7 477.9h0M1745.6 477.1h0M1748.5 476.3h0M1751.3 475.5h0M1753.2 474.8h0M1755.1 474.2h0M1757.0 473.5h0M1759.0 472.8h0M1760.9 472.1h0M1762.8 471.3h0M1764.7 470.5h0M1766.6 469.7h0M1768.5 468.8h0M1770.4 467.9h0M1772.3 466.9h0M1774.2 465.8h0M1776.1 464.6h0M1778.0 463.2h0M1779.9 461.7h0M1781.8 460.1h0M1783.8 458.4h0M1785.7 456.5h0M1787.6 454.4h0M1789.5 452.0h0M1791.4 449.0h0M1793.3 445.5h0M1794.2 443.6h0M1795.2 441.5h0M1796.2 439.2h0M1797.1 436.8h0M1798.1 434.1h0M1799.0 431.1h0M1800.0 427.8h0M1800.9 424.1h0M1801.9 420.0h0M1802.8 415.4h0M1803.8 410.3h0M1804.7 403.9h0M1805.7 395.2h0M1806.7 385.4h0M1807.6 375.5h0M1808.6 366.7h0M1809.5 358.1h0M1810.5 347.5h0M1811.4 331.8h0M1812.4 309.8h0M1813.3 285.5h0M1814.3 260.6h0M1815.2 232.5h0M1816.2 208.7h0M1817.1 194.0h0M1818.1 182.8h0M1819.1 172.6h0M1820.0 161.7h0M1821.0 151.1h0M1821.9 141.7h0M1822.9 134.1h0M1823.8 127.3h0M1824.8 121.5h0M1825.7 116.5h0M1826.7 112.2h0M1827.6 108.3h0M1828.6 104.8h0M1829.5 101.6h0M1830.5 98.7h0M1831.5 95.9h0M1832.4 93.4h0M1833.4 91.1h0M1834.3 89.2h0M1836.2 86.2h0M1838.1 83.6h0M1840.0 81.4h0M1841.9 79.5h0M1843.9 77.7h0M1845.8 76.1h0M1847.7 74.7h0M1849.6 73.3h0M1851.5 72.1h0M1853.4 70.8h0M1855.3 69.6h0M1857.2 68.4h0M1859.1 67.6h0M1862.0 67.0h0M1864.8 66.6h0M1867.7 66.4h0M1870.6 66.3h0M1873.4 66.3h0M1876.3 66.3h0M1879.2 66.3h0M1882.0 66.3h0M1884.9 66.3h0M1887.7 66.3h0M1890.6 66.3h0M1893.5 66.3h0M1896.3 66.3h0M1899.2 66.3h0M1902.1 66.3h0M1904.9 66.3h0M1907.8 66.3h0M1910.6 66.3h0M1913.5 66.3h0M1916.4 66.3h0M1919.2 66.3h0M1922.1 66.3h0M1924.9 66.3h0M1927.8 66.3h0M1930.7 66.3h0M1933.5 66.3h0M1936.4 66.3h0M1939.3 66.3h0M1942.1 66.3h0M1945.0 66.3h0M1947.8 66.3h0M1950.7 66.3h0M1953.6 66.3h0M1956.4 66.3h0M1959.3 66.3h0M1962.2 66.3h0M1965.0 66.3h0M1967.9 66.3h0M1970.7 66.3h0M1973.6 66.3h0M1974.6 66.3h0" stroke="#00aaff" stroke-width="10" stroke-linecap="round" fill="none"/>
<path d="M1507.5 500.4h0M1510.3 500.3h0M1513.2 500.1h0M1516.1 500.0h0M1518.9 499.8h0M1521.8 499.7h0M1524.6 499.5h0M1527.5 499.4h0M1530.4 499.2h0M1533.2 499.1h0M1536.1 498.9h0M1539.0 498.8h0M1541.8 498.6h0M1544.7 498.5h0M1547.5 498.3h0M1550.4 498.1h0M1553.3 498.0h0M1556.1 497.8h0M1559.0 497.6h0M1561.9 497.4h0M1564.7 497.3h0M1567.6 497.1h0M1570.4 496.9h0M1573.3 496.7h0M1576.2 496.5h0M1579.0 496.4h0M1581.9 496.2h0M1584.8 496.0h0M1587.6 495.8h0M1590.5 495.6h0M1593.3 495.4h0M1596.2 495.2h0M1599.1 495.0h0M1601.9 494.8h0M1604.8 494.6h0M1607.6 494.4h0M1610.5 494.2h0M1613.4 494.0h0M1616.2 493.8h0M1619.1 493.6h0M1622.0 493.4h0M1624.8 493.2h0M1627.7 493.0h0M1630.5 492.8h0M1633.4 492.6h0M1636.3 492.4h0M1639.1 492.1h0M1642.0 491.9h0M1644.9 491.7h0M1647.7 491.5h0M1650.6 491.2h0M1653.4 491.0h0M1656.3 490.7h0M1659.2 490.5h0M1662.0 490.2h0M1664.9 490.0h0M1667.7 489.7h0M1670.6 489.4h0M1673.5 489.2h0M1676.3 488.9h0M1679.2 488.6h0M1682.1 488.3h0M1684.9 488.0h0M1687.8 487.7h0M1690.6 487.4h0M1693.5 487.1h0M1696.4 486.7h0M1699.2 486.4h0M1702.1 486.0h0M1705.0 485.7h0M1707.8 485.3h0M1710.7 484.9h0M1713.5 484.5h0M1716.4 484.1h0M1719.3 483.7h0M1722.1 483.2h0M1725.0 482.8h0M1727.9 482.3h0M1730.7 481.7h0M1733.6 481.2h0M1736.4 480.6h0M1739.3 480.0h0M1742.2 479.4h0M1745.0 478.7h0M1747.9 477.9h0M1750.7 477.1h0M1753.6 476.2h0M1755.5 475.6h0M1757.4 474.9h0M1759.3 474.3h0M1761.2 473.6h0M1763.1 472.8h0M1765.1 472.0h0M1767.0 471.2h0M1768.9 470.4h0M1770.8 469.4h0M1772.7 468.3h0M1774.6 467.1h0M1776.5 465.7h0M1778.4 464.2h0M1780.3 462.7h0M1782.2 461.1h0M1784.1 459.6h0M1786.0 457.8h0M1788.0 455.7h0M1789.9 453.2h0M1791.8 450.3h0M1793.7 447.0h0M1794.6 445.1h0M1795.6 443.1h0M1796.5 440.9h0M1797.5 438.4h0M1798.4 435.4h0M1799.4 432.1h0M1800.4 428.6h0M1801.3 424.8h0M1802.3 420.8h0M1803.2 416.8h0M1804.2 412.8h0M1805.1 408.8h0M1806.1 404.7h0M1807.0 400.1h0M1808.0 394.7h0M1808.9 388.1h0M1809.9 378.9h0M1810.8 367.8h0M1811.8 355.4h0M1812.8 337.3h0M1813.7 301.6h0M1814.7 260.5h0M1815.6 216.7h0M1816.6 185.8h0M1817.5 168.6h0M1818.5 156.0h0M1819.4 143.6h0M1820.4 133.8h0M1821.3 123.4h0M1822.3 116.0h0M1823.3 111.6h0M1824.2 108.2h0M1825.2 105.1h0M1826.1 101.9h0M1827.1 98.7h0M1828.0 95.8h0M1829.0 93.2h0M1829.9 91.1h0M1830.9 89.3h0M1832.8 86.1h0M1834.7 83.9h0M1836.6 82.9h0M1838.5 82.1h0M1841.4 81.3h0M1844.2 80.6h0M1847.1 80.0h0M1849.0 79.4h0M1850.9 78.6h0M1852.8 77.6h0M1854.7 76.5h0M1856.6 75.4h0M1858.5 74.3h0M1860.5 73.0h0M1862.4 71.4h0M1864.3 69.8h0M1866.2 68.4h0M1868.1 67.4h0M1871.0 67.2h0M1873.8 67.1h0M1876.7 67.1h0M1879.5 67.1h0M1882.4 67.0h0M1885.3 67.0h0M1888.1 67.0h0M1891.0 67.0h0M1893.8 67.0h0M1896.7 66.9h0M1899.6 66.9h0M1902.4 66.9h0M1905.3 66.9h0M1908.2 66.9h0M1911.0 66.9h0M1913.9 66.8h0M1916.7 66.8h0M1919.6 66.8h0M1922.5 66.8h0M1925.3 66.8h0M1928.2 66.8h0M1931.1 66.8h0M1933.9 66.8h0M1936.8 66.8h0M1939.6 66.8h0M1942.5 66.8h0M1945.4 66.8h0M1948.2 66.8h0M1951.1 66.8h0M1953.9 66.8h0M1956.8 66.7h0M1959.7 66.7h0M1962.5 66.7h0M1965.4 66.7h0M1968.3 66.7h0M1971.1 66.7h0M1974.0 66.7h0M1974.9 66.7h0" stroke="#ff0000" stroke-width="10" stroke-linecap="round" fill="none"/>
<path d="M459.8 1123.8h0M462.6 1121.8h0M464.6 1121.5h0M467.4 1121.7h0M469.9 1119.5h0M472.6 1120.9h0M474.8 1120.2h0M477.0 1120.2h0M479.8 1118.7h0M482.0 1118.8h0M484.3 1115.8h0M487.1 1115.8h0M488.9 1114.8h0M491.8 1113.6h0M494.0 1113.9h0M497.2 1112.7h0M499.2 1112.3h0M502.1 1110.6h0M504.5 1110.8h0M506.8 1107.9h0M509.4 1107.9h0M512.1 1105.2h0M514.1 1104.5h0M516.3 1104.2h0M519.4 1102.2h0M522.2 1102.5h0M524.4 1100.8h0M527.0 1097.7h0M529.4 1098.2h0M531.1 1096.5h0M534.1 1095.4h0M536.5 1093.1h0M539.2 1090.8h0M541.7 1090.0h0M544.2 1088.1h0M546.9 1087.7h0M549.0 1086.2h0M551.9 1085.9h0M553.5 1083.5h0M556.6 1081.1h0M558.6 1081.0h0M561.0 1078.9h0M564.3 1075.3h0M566.3 1074.2h0M568.9 1075.5h0M571.9 1070.8h0M573.6 1071.7h0M576.8 1069.9h0M578.5 1068.1h0M580.0 1066.7h0M581.0 1066.5h0M582.6 1065.1h0M583.6 1063.0h0M584.8 1064.6h0M586.1 1061.0h0M587.8 1062.1h0M589.3 1060.6h0M589.8 1058.2h0M591.5 1061.2h0M592.1 1057.0h0M593.8 1055.8h0M594.8 1055.3h0M596.2 1055.7h0M597.4 1054.5h0M598.5 1052.8h0M599.2 1050.0h0M601.3 1049.8h0M602.5 1049.8h0M603.9 1049.0h0M605.1 1046.9h0M605.8 1045.2h0M607.1 1043.6h0M608.3 1043.4h0M609.8 1042.0h0M610.4 1041.0h0M612.3 1041.0h0M613.6 1038.0h0M614.5 1039.4h0M616.2 1037.9h0M617.8 1034.0h0M618.5 1034.0h0M619.8 1032.8h0M621.0 1031.1h0M621.7 1029.5h0M623.2 1028.5h0M624.5 1027.7h0M626.1 1026.1h0M627.2 1024.6h0M628.2 1023.1h0M629.4 1022.3h0M630.8 1021.2h0M631.7 1020.3h0M633.1 1017.3h0M634.5 1016.2h0M635.9 1014.9h0M636.7 1013.3h0M638.6 1012.9h0M639.1 1011.5h0M640.3 1012.0h0M641.5 1009.3h0M643.4 1006.0h0M644.5 1007.1h0M645.8 1005.0h0M647.2 1003.6h0M648.3 1001.9h0M649.6 999.8h0M650.9 998.8h0M651.6 998.3h0M653.6 997.5h0M654.2 995.9h0M655.5 993.6h0M656.9 990.0h0M658.1 989.9h0M659.1 988.0h0M660.1 987.2h0M662.1 988.3h0M663.0 986.3h0M664.2 981.9h0M665.6 982.8h0M666.6 981.2h0M668.2 978.6h0M668.8 977.8h0M670.4 976.2h0M672.0 976.8h0M672.8 974.3h0M674.5 972.8h0M675.8 970.2h0M676.9 971.2h0M678.2 967.1h0M679.3 967.5h0M680.5 964.2h0M682.1 961.9h0M683.0 961.6h0M683.8 961.2h0M685.5 957.2h0M686.8 956.1h0M687.3 954.0h0M689.2 953.4h0M690.4 950.8h0M691.7 948.5h0M693.1 946.8h0M694.1 945.1h0M695.0 941.7h0M697.0 940.7h0M697.7 938.7h0M698.8 936.7h0M700.0 934.8h0M701.0 934.0h0M702.6 929.3h0M703.9 928.8h0M705.2 926.3h0M706.5 929.4h0M707.3 924.4h0M708.8 922.5h0M709.6 919.5h0M711.5 918.9h0M713.1 916.5h0M713.9 918.4h0M714.9 912.8h0M716.3 911.9h0M717.8 910.2h0M718.6 908.3h0M720.9 907.4h0M720.5 904.0h0M722.3 902.6h0M723.7 901.8h0M725.3 898.6h0M726.3 895.5h0M727.6 894.6h0M728.9 890.8h0M730.4 889.1h0M731.2 885.9h0M732.3 883.8h0M732.9 883.2h0M735.1 879.8h0M736.5 878.2h0M737.5 873.0h0M738.6 873.7h0M740.4 872.7h0M741.6 867.3h0M741.7 866.7h0M743.6 864.7h0M744.8 861.5h0M745.6 859.3h0M747.2 856.6h0M748.7 853.6h0M749.9 851.1h0M751.3 849.0h0M752.1 845.2h0M754.1 843.0h0M755.1 840.7h0M755.8 836.7h0M757.3 834.8h0M758.7 830.3h0M759.6 828.4h0M761.4 823.0h0M762.3 821.6h0M763.6 818.4h0M764.8 817.2h0M766.0 812.7h0M767.3 808.1h0M768.6 805.3h0M769.4 802.0h0M770.8 799.4h0M772.1 794.6h0M773.8 792.7h0M775.0 788.8h0M775.8 784.3h0M777.0 782.1h0M778.4 776.0h0M779.6 772.4h0M780.9 768.9h0M781.7 766.4h0M783.3 760.7h0M784.7 760.6h0M785.3 756.2h0M786.8 749.8h0M788.2 744.6h0M789.9 742.0h0M790.5 736.3h0M791.5 731.3h0M793.5 725.2h0M794.3 722.4h0M796.0 719.0h0M796.8 712.3h0M798.3 708.2h0M799.3 705.6h0M801.1 701.2h0M801.8 697.7h0M802.5 693.4h0M804.0 692.8h0M805.8 688.9h0M808.0 689.6h0M809.5 697.9h0M810.3 702.3h0M812.0 708.1h0M813.3 723.5h0M814.3 738.4h0M815.7 754.5h0M816.8 779.3h0M817.6 804.6h0M819.1 822.2h0M820.4 846.3h0M821.8 873.7h0M823.3 899.6h0M824.3 921.4h0M825.3 941.3h0M826.7 955.1h0M827.5 966.9h0M829.4 972.3h0M830.5 976.8h0M831.3 979.7h0M834.2 982.3h0M836.4 983.7h0M839.3 983.7h0M841.9 983.4h0M844.0 984.2h0M846.5 984.5h0M848.6 985.1h0M851.2 983.5h0M853.5 984.3h0M856.8 984.8h0M859.1 982.1h0M861.1 983.2h0M863.6 984.8h0M866.4 983.6h0M869.0 982.7h0M871.0 982.8h0M873.9 984.0h0M876.4 984.7h0M878.3 983.0h0M881.2 982.2h0M883.5 984.6h0M886.5 984.6h0M888.7 983.3h0M891.4 983.1h0M893.7 984.7h0M896.0 982.8h0" stroke="#ff5500" stroke-width="10" stroke-linecap="round" fill="none"/>
<path d="M512.2 1047.9h0M514.2 1046.7h0M516.3 1042.0h0M516.4 1041.3h0M518.2 1045.9h0M519.8 1044.3h0M520.1 1043.0h0M522.3 1046.1h0M525.0 1043.8h0M525.9 1042.5h0M527.9 1039.8h0M528.7 1039.8h0M530.1 1038.2h0M531.8 1037.3h0M534.1 1034.8h0M535.6 1036.3h0M536.3 1034.1h0M538.0 1036.0h0M539.8 1034.7h0M541.2 1039.2h0M543.0 1033.3h0M544.9 1033.7h0M546.2 1034.6h0M547.0 1028.4h0M548.6 1033.1h0M550.1 1032.2h0M552.5 1029.3h0M554.2 1033.4h0M555.6 1031.6h0M557.2 1033.3h0M558.1 1027.6h0M559.9 1024.8h0M560.0 1024.1h0M562.8 1026.3h0M563.1 1020.4h0M565.4 1023.3h0M567.1 1024.4h0M569.5 1022.6h0M570.6 1018.9h0M570.9 1021.0h0M573.7 1021.2h0M575.1 1020.5h0M576.8 1014.1h0M577.3 1018.1h0M579.7 1012.8h0M581.6 1014.3h0M582.2 1015.0h0M584.4 1010.3h0M586.1 1012.6h0M586.4 1010.9h0M587.0 1009.1h0M590.1 1008.0h0M591.3 1008.2h0M593.1 1009.7h0M594.6 1005.9h0M596.5 1009.9h0M597.4 1005.4h0M598.1 1006.1h0M601.1 1004.9h0M602.2 998.5h0M604.3 1001.2h0M604.7 995.1h0M607.1 996.7h0M610.0 994.5h0M609.5 994.3h0M610.3 991.3h0M614.0 991.7h0M614.0 987.9h0M616.3 990.8h0M617.6 987.1h0M619.2 987.5h0M620.1 986.6h0M620.6 981.0h0M623.4 982.3h0M624.3 981.8h0M627.3 980.7h0M628.3 980.1h0M629.9 974.3h0M631.1 978.2h0M632.0 974.0h0M634.0 970.4h0M635.1 971.1h0M637.5 970.0h0M637.9 967.2h0M640.6 968.3h0M642.3 966.5h0M644.1 964.9h0M644.4 961.6h0M646.0 954.6h0M646.9 962.8h0M648.8 951.6h0M650.6 958.2h0M652.5 954.0h0M653.9 951.2h0M656.4 951.4h0M657.1 949.8h0M659.4 945.6h0M660.4 944.8h0M661.3 944.9h0M663.1 939.1h0M663.7 935.8h0M667.3 934.1h0M668.1 933.8h0M669.7 933.9h0M670.4 929.9h0M672.5 928.6h0M673.9 925.6h0M675.9 927.0h0M677.3 920.3h0M678.8 919.9h0M680.3 921.6h0M681.4 915.3h0M682.5 912.5h0M684.2 914.4h0M686.3 907.4h0M688.9 903.7h0M689.7 906.8h0M691.1 901.9h0M692.1 899.7h0M694.3 893.3h0M694.9 896.7h0M696.4 890.2h0M698.2 890.3h0M700.4 892.7h0M701.4 882.9h0M702.0 883.8h0M703.4 888.2h0M703.9 887.6h0M705.4 883.2h0M704.6 880.6h0M705.1 881.2h0M706.9 880.3h0M707.8 871.4h0M708.8 876.0h0M710.2 869.6h0M709.3 869.5h0M709.9 863.7h0M710.7 869.6h0M711.7 859.0h0M712.6 858.6h0M714.5 858.3h0M714.9 854.2h0M715.3 850.7h0M714.9 854.6h0M716.4 850.4h0M717.3 846.0h0M718.1 841.3h0M718.9 843.4h0M720.3 841.8h0M721.2 839.7h0M721.3 833.0h0M721.7 839.0h0M722.9 835.7h0M723.4 830.8h0M725.7 831.4h0M726.1 830.1h0M725.6 822.4h0M726.7 822.3h0M725.9 826.9h0M728.6 823.9h0M728.9 820.8h0M729.9 819.6h0M730.5 819.3h0M729.6 818.0h0M731.5 816.2h0M733.5 810.8h0M734.0 812.7h0M733.7 808.0h0M735.0 802.5h0M735.4 806.0h0M736.2 800.2h0M737.0 805.2h0M738.9 799.7h0M738.2 798.0h0M739.5 794.5h0M740.1 795.4h0M741.7 786.6h0M742.5 790.2h0M743.3 787.9h0M743.6 789.5h0M742.1 787.3h0M745.0 777.8h0M743.9 780.5h0M745.7 780.1h0M747.3 775.7h0M748.6 774.5h0M749.2 774.1h0M749.6 772.3h0M750.7 765.8h0M750.8 767.0h0M751.5 761.9h0M752.1 764.5h0" stroke="#ff00cc" stroke-width="10" stroke-linecap="round" fill="none"/>
<path d="M753.7 765.8h0M754.9 779.0h0M756.0 792.1h0M756.8 831.0h0M757.4 872.4h0M758.6 901.5h0M759.5 923.9h0M760.6 943.3h0M761.5 959.7h0M762.1 971.8h0M763.1 976.7h0M764.3 979.6h0M765.3 981.5h0M766.3 982.4h0M768.2 983.4h0M770.2 984.8h0M772.0 986.5h0M773.5 986.2h0M775.8 987.4h0M777.9 987.8h0M779.6 988.1h0M781.5 988.5h0M783.5 988.9h0M785.4 990.0h0M787.4 989.3h0M789.1 990.1h0M790.9 989.0h0M792.8 990.4h0M794.8 990.1h0M796.8 989.9h0M799.0 990.6h0M800.5 991.7h0M802.3 990.5h0M804.3 990.3h0M806.2 991.1h0M808.2 990.9h0M810.2 991.9h0M812.2 990.0h0M814.1 991.4h0M815.9 990.6h0M817.6 991.1h0M819.4 991.8h0M821.7 991.3h0M823.3 992.0h0M825.4 991.9h0M827.2 992.6h0M829.1 992.4h0M830.8 991.6h0M833.0 990.3h0M834.8 991.0h0M836.6 991.2h0M838.5 991.8h0M840.7 991.8h0M842.4 991.5h0M844.7 991.6h0M846.3 991.5h0M848.3 992.2h0M850.2 992.0h0M852.1 991.8h0M854.0 991.4h0M855.9 992.3h0M857.6 992.3h0M859.7 991.3h0M861.3 991.2h0M863.3 992.2h0M865.4 992.6h0M867.6 991.8h0M868.9 991.3h0M870.8 991.7h0M872.9 992.7h0M874.7 992.0h0M876.8 992.0h0M878.6 993.2h0M880.6 992.1h0M882.6 992.2h0M884.7 991.5h0M886.3 991.9h0M888.2 992.6h0M890.1 991.2h0M892.1 991.6h0M894.1 992.3h0M896.2 992.4h0M897.7 992.4h0" stroke="#ff00cc" stroke-width="10" stroke-linecap="round" fill="none"/>
<path d="M565.8 1015.9h0M567.7 1019.4h0M570.2 1018.7h0M572.7 1016.9h0M573.9 1016.5h0M576.7 1013.8h0M578.6 1014.1h0M581.4 1010.9h0M583.2 1007.6h0M586.4 1008.5h0M588.5 1008.0h0M591.1 1008.2h0M592.6 1006.6h0M594.3 1004.7h0M596.4 1001.7h0M599.8 999.8h0M601.5 996.5h0M603.8 997.5h0M606.6 993.7h0M607.9 993.2h0M610.1 989.5h0M611.6 990.4h0M613.2 989.0h0M614.3 986.3h0M615.6 988.5h0M616.5 986.3h0M617.6 985.9h0M619.1 984.6h0M620.1 984.7h0M620.9 980.7h0M622.0 981.1h0M623.1 978.2h0M624.9 979.9h0M625.9 973.0h0M626.4 974.4h0M627.4 974.3h0M629.9 973.4h0M629.9 973.8h0M631.4 971.9h0M632.2 970.6h0M633.9 966.6h0M634.1 970.0h0M636.3 966.4h0M636.7 965.8h0M637.7 964.4h0M640.1 963.9h0M641.1 962.2h0M641.9 963.5h0M642.2 959.7h0M643.9 959.4h0M645.8 958.8h0M645.6 956.1h0M647.0 953.9h0M649.5 952.5h0M649.8 951.7h0M651.2 952.1h0M652.0 950.1h0M653.6 947.5h0M653.9 946.0h0M656.0 945.9h0M656.1 944.4h0M658.8 943.5h0M659.2 943.0h0M660.0 939.9h0M661.0 939.0h0M661.3 942.1h0M663.8 936.9h0M664.5 934.1h0M666.1 933.6h0M667.1 930.3h0M668.2 933.9h0M669.0 930.5h0M670.3 929.4h0M671.9 926.3h0M672.3 925.1h0M673.7 922.1h0M675.1 922.1h0M675.6 919.6h0M678.5 919.4h0M678.3 920.3h0M679.2 911.2h0M679.7 910.9h0M681.9 913.0h0M681.9 911.6h0M683.5 908.6h0M685.4 907.2h0M686.3 905.2h0M686.9 903.8h0M689.0 903.2h0M690.9 901.9h0M691.2 901.3h0M692.1 895.3h0M692.2 897.6h0M694.6 895.4h0M695.3 893.1h0M697.5 891.5h0M697.3 888.7h0M699.5 886.0h0M698.9 882.4h0M700.6 885.2h0M702.4 880.9h0M702.9 879.8h0M704.5 877.0h0M705.7 874.4h0M707.7 869.6h0M708.1 869.1h0M709.5 867.0h0M710.5 864.3h0M711.6 860.9h0M712.0 856.9h0M713.7 852.5h0M715.6 850.5h0M717.0 842.5h0M716.8 844.4h0M717.8 839.9h0M720.3 838.8h0M720.2 835.6h0M722.1 832.4h0M722.9 830.0h0M723.4 827.5h0M724.8 825.5h0M726.6 821.1h0M727.8 820.6h0M728.6 818.7h0M729.6 814.8h0M731.0 812.7h0M732.6 806.7h0M733.1 804.7h0M734.1 805.5h0M735.5 803.9h0M736.8 795.6h0M737.3 799.2h0M739.6 794.1h0M739.4 794.2h0M740.3 788.3h0M742.3 785.2h0M743.0 781.1h0M745.1 778.0h0M745.2 775.7h0M747.0 772.6h0M747.7 770.8h0M749.1 765.6h0M750.4 764.8h0M751.6 759.7h0M752.3 760.6h0M754.2 765.4h0" stroke="#ff00cc" stroke-width="10" stroke-linecap="round" fill="none"/>
<path d="M528.6 1045.8h0M530.8 1044.4h0M532.7 1043.5h0M534.3 1042.0h0M536.3 1040.9h0M538.4 1038.0h0M540.3 1036.8h0M542.2 1035.8h0M544.1 1034.4h0M546.1 1031.9h0M547.6 1029.7h0M549.8 1029.3h0M551.9 1027.1h0M553.6 1025.5h0M555.4 1023.3h0M557.5 1022.5h0M559.3 1021.7h0M561.3 1019.3h0M563.3 1019.0h0M565.1 1016.9h0M566.7 1015.0h0M568.8 1014.5h0M570.6 1014.0h0M572.7 1012.2h0M574.7 1009.8h0M576.6 1009.2h0M578.2 1008.0h0M580.4 1006.7h0M582.3 1004.0h0M584.1 1003.0h0M586.0 1001.9h0M588.1 1000.7h0M589.7 999.2h0M592.0 997.2h0M593.4 995.1h0M595.5 992.9h0M597.4 991.4h0M599.5 990.6h0M601.2 987.8h0M603.2 986.3h0M605.0 985.3h0M606.9 982.1h0M609.0 981.8h0M611.0 979.4h0M613.0 976.8h0M614.9 976.1h0M616.5 973.3h0M618.2 970.6h0M620.4 968.5h0M622.3 967.3h0M624.2 965.5h0M626.3 963.1h0M628.1 961.8h0M629.8 958.7h0M631.4 957.2h0M633.8 955.2h0M635.9 953.7h0M637.6 950.8h0M639.3 948.8h0M641.4 946.6h0M643.2 944.4h0M645.2 941.6h0M647.0 940.3h0M649.0 938.4h0M650.8 935.6h0M652.6 934.2h0M654.7 931.5h0M656.5 928.6h0M658.6 926.8h0M659.5 926.5h0M660.1 924.1h0M661.4 923.6h0M662.1 922.0h0M663.1 920.6h0M664.3 919.7h0M665.3 918.7h0M666.3 916.7h0M667.1 915.2h0M667.8 913.9h0M669.1 913.4h0M669.7 912.7h0M671.0 910.6h0M671.8 909.4h0M672.6 909.2h0M673.7 906.6h0M674.6 905.1h0M675.5 904.2h0M676.4 902.2h0M677.4 901.8h0M678.3 899.5h0M679.5 898.1h0M680.3 897.7h0M681.4 895.9h0M682.5 894.4h0M683.2 892.3h0M684.2 892.2h0M685.1 891.4h0M686.3 889.6h0M686.9 887.9h0M688.1 885.4h0M689.0 884.9h0M689.7 883.9h0M691.2 882.7h0M691.7 880.8h0M693.0 879.1h0M693.8 878.2h0M694.7 877.6h0M695.4 876.0h0M696.6 873.9h0M697.3 872.7h0M698.5 869.7h0M699.3 869.1h0M700.3 868.0h0M701.2 867.6h0M702.5 865.3h0M703.5 865.0h0M704.3 861.8h0M705.2 861.7h0M706.0 859.5h0M707.2 858.5h0M708.2 856.6h0M709.0 854.6h0M710.1 853.8h0M710.8 851.4h0M712.1 850.6h0M712.7 847.6h0M713.8 847.2h0M714.9 845.6h0M715.4 843.5h0M716.6 841.4h0M718.0 840.1h0M718.6 838.3h0M719.6 837.4h0M720.4 835.1h0M721.3 833.0h0M722.3 831.9h0M723.3 829.5h0M724.0 827.6h0M725.2 826.0h0M726.1 822.5h0M726.8 820.9h0" stroke="#0000ff" stroke-width="10.5" stroke-linecap="round" fill="none"/>
<path d="M526.2 1045.0h0M527.4 1042.5h0M529.1 1043.7h0M530.7 1042.0h0M532.4 1039.9h0M534.2 1038.6h0M535.3 1039.5h0M536.8 1036.6h0M538.2 1035.5h0M539.5 1033.6h0M541.7 1032.9h0M542.9 1031.7h0M544.5 1030.4h0M546.1 1028.0h0M547.6 1027.4h0M549.1 1026.6h0M550.4 1025.3h0M551.9 1024.7h0M553.6 1023.4h0M554.9 1022.7h0M556.6 1021.3h0M558.3 1018.7h0M559.7 1017.8h0M561.3 1017.9h0M562.9 1016.5h0M564.1 1014.9h0M565.9 1014.3h0M567.2 1012.9h0M568.9 1010.5h0M570.2 1010.6h0M571.7 1008.5h0M573.6 1008.3h0M574.9 1007.1h0M576.4 1005.7h0M577.9 1005.1h0M579.8 1003.5h0M581.0 1002.5h0M582.3 1001.6h0M584.3 999.8h0M585.8 998.8h0M587.4 998.6h0M588.6 995.5h0M590.1 994.6h0M591.5 993.9h0M593.5 992.7h0M594.7 990.3h0M596.2 989.2h0M597.9 988.3h0M599.3 987.2h0M600.8 986.3h0M602.5 984.1h0M604.0 983.2h0M605.7 981.4h0M607.2 979.5h0M608.5 977.4h0M610.2 976.1h0M611.4 975.7h0M613.0 973.2h0M614.8 971.9h0M616.3 970.2h0M617.8 969.5h0M619.2 968.4h0M620.6 965.5h0M622.2 964.7h0M623.7 962.2h0M625.3 961.6h0M626.7 958.5h0M628.3 958.0h0M629.8 956.1h0M631.1 954.4h0M632.9 953.1h0M634.5 951.6h0M635.8 949.9h0M637.2 947.5h0M639.2 946.7h0M640.2 944.8h0M642.0 942.3h0M643.6 941.2h0M645.4 938.5h0M646.6 937.6h0M647.8 936.6h0M650.0 933.8h0M651.3 932.3h0M652.8 930.2h0M654.4 928.1h0M656.0 927.2h0M657.8 924.2h0M658.8 922.6h0M660.3 921.7h0M661.7 918.7h0M663.1 917.7h0M665.2 916.3h0M666.5 913.0h0M667.9 910.7h0M669.2 910.2h0M671.0 907.6h0M672.5 906.1h0M674.4 902.7h0M675.6 900.7h0M677.4 899.7h0M678.6 898.1h0M680.2 893.8h0M681.4 892.3h0M683.3 889.9h0M684.8 888.8h0M686.3 886.4h0M688.1 884.0h0M689.3 881.8h0M691.0 880.6h0M692.3 876.2h0M694.0 875.1h0M695.4 873.0h0M697.0 871.1h0M698.4 867.7h0M700.0 865.6h0M701.8 863.9h0M703.1 862.1h0M704.7 859.5h0M706.3 856.4h0M707.6 854.0h0M709.0 851.4h0M710.9 849.2h0M712.1 847.9h0M712.8 845.5h0M713.9 844.6h0M714.4 842.5h0M715.3 841.8h0M716.1 840.1h0M716.9 839.7h0M717.7 837.7h0M718.2 836.2h0M718.9 835.1h0M719.9 832.6h0M720.4 831.8h0M721.4 830.2h0M722.1 828.9h0M722.8 827.4h0M723.7 826.6h0M724.6 823.7h0M725.5 823.0h0M725.9 821.2h0M726.7 818.6h0M727.4 818.6h0M729.1 815.7h0M730.6 814.5h0M732.2 817.6h0M733.2 819.2h0M733.9 823.1h0M734.1 826.6h0M735.4 831.1h0M736.0 836.6h0M736.3 845.4h0M737.5 858.8h0M738.2 872.4h0M739.4 884.7h0M739.6 894.4h0M740.4 904.5h0M741.3 911.2h0M742.2 918.0h0M743.0 923.3h0M743.2 930.4h0M744.1 942.7h0M744.9 951.1h0M745.8 956.7h0M746.5 964.9h0M747.2 971.0h0M748.1 974.2h0M748.8 977.6h0M749.6 979.3h0M751.1 980.6h0M752.4 983.7h0M754.5 983.5h0M755.9 985.1h0M757.4 985.0h0M758.5 985.1h0M760.3 987.1h0M762.1 986.7h0M763.3 988.0h0M765.3 987.1h0M766.5 988.2h0M767.9 988.4h0M769.4 989.0h0M770.7 989.5h0M772.7 990.3h0M774.2 990.5h0M775.6 991.9h0M777.1 991.2h0M778.8 991.5h0M779.9 991.5h0M781.6 992.1h0M783.1 993.1h0M784.8 993.1h0M786.2 993.7h0M787.9 994.7h0M789.2 993.6h0M791.1 993.2h0M792.4 994.2h0M793.9 993.6h0M795.4 993.5h0M797.1 994.2h0M798.5 994.5h0M800.0 994.6h0M801.6 994.3h0M803.0 993.9h0M804.4 994.0h0M805.9 993.6h0M807.5 994.8h0M809.2 994.1h0M810.7 994.5h0M812.7 993.2h0M813.7 993.3h0M815.5 993.8h0M816.8 994.0h0M818.4 992.0h0M819.6 993.6h0M821.1 993.8h0M823.1 992.5h0M824.3 993.5h0M826.2 993.6h0M827.6 992.3h0M829.0 992.7h0M830.4 992.7h0M832.0 992.0h0M833.9 992.0h0M835.4 991.7h0M836.6 991.0h0M838.0 992.5h0M839.6 990.1h0M841.4 990.6h0M842.6 990.9h0M843.9 991.7h0M846.0 990.4h0M847.3 990.2h0M848.7 990.1h0M850.1 989.8h0M851.7 991.0h0M853.1 990.5h0M855.0 989.6h0M856.3 990.5h0M858.2 989.2h0M859.4 989.1h0M861.3 988.3h0M862.5 989.3h0M863.8 988.4h0M865.8 988.0h0M867.1 987.1h0M868.7 987.1h0M870.1 987.8h0M871.6 987.9h0M873.3 987.5h0M874.9 986.9h0M875.9 987.3h0M877.9 986.2h0M879.1 987.0h0M880.7 985.8h0M882.3 987.2h0M883.7 984.1h0M885.4 984.7h0M886.6 985.2h0M888.3 985.4h0M889.9 985.3h0M891.7 984.4h0M893.1 985.2h0M894.7 983.0h0M896.1 983.7h0M897.8 983.3h0" stroke="#0000ff" stroke-width="10.5" stroke-linecap="round" fill="none"/>
<path d="M1140.2 1002.4h0M1140.6 1006.2h0M1140.9 1008.0h0M1141.5 1005.5h0M1141.8 1010.7h0M1142.5 1010.6h0M1142.8 1014.6h0M1143.2 1013.4h0M1143.3 1017.1h0M1143.6 1020.3h0M1144.0 1020.1h0M1144.6 1020.8h0M1145.4 1023.3h0M1145.2 1025.6h0M1146.2 1026.1h0M1146.3 1028.9h0M1146.4 1029.6h0M1146.7 1028.8h0M1146.9 1021.3h0M1147.2 1028.6h0M1147.5 1025.4h0M1147.8 1021.6h0M1148.0 1027.3h0M1148.3 1025.3h0M1148.6 1024.3h0M1148.9 1024.3h0M1149.1 1029.3h0M1149.4 1024.0h0M1149.7 1018.8h0M1150.0 1030.1h0M1150.3 1020.5h0M1150.5 1023.3h0M1150.8 1026.1h0M1151.1 1015.6h0M1151.4 1020.3h0M1151.7 1027.9h0M1151.9 1022.8h0M1152.2 1020.6h0M1152.5 1023.5h0M1152.8 1019.9h0M1153.1 1022.8h0M1153.4 1019.7h0M1153.7 1016.5h0M1154.0 1024.7h0M1154.3 1021.1h0M1154.6 1023.6h0M1154.8 1021.1h0M1155.1 1026.2h0M1155.4 1023.6h0M1155.7 1022.0h0M1156.0 1017.5h0M1156.3 1016.4h0M1156.6 1026.1h0M1156.9 1023.9h0M1157.2 1018.1h0M1157.5 1028.4h0M1157.8 1022.2h0M1158.1 1020.7h0M1158.4 1015.2h0M1158.7 1017.4h0M1159.0 1021.3h0M1159.3 1021.3h0M1159.6 1020.7h0M1159.9 1013.6h0M1160.3 1021.2h0M1160.6 1020.6h0M1160.9 1017.9h0M1161.2 1019.7h0M1161.5 1019.8h0M1161.8 1023.3h0M1162.1 1018.9h0M1162.4 1020.5h0M1162.7 1014.0h0M1163.1 1015.9h0M1163.4 1018.5h0M1163.7 1015.6h0M1164.0 1019.5h0M1164.3 1013.9h0M1164.6 1017.9h0M1165.0 1015.5h0M1165.3 1022.8h0M1165.6 1016.2h0M1165.9 1024.1h0M1166.2 1025.4h0M1166.6 1018.4h0M1166.9 1020.6h0M1167.2 1016.3h0M1167.5 1008.0h0M1167.9 1020.0h0M1168.2 1019.0h0M1168.5 1015.6h0M1168.9 1014.2h0M1169.2 1016.7h0M1169.5 1016.6h0M1169.9 1012.9h0M1170.2 1013.4h0M1170.5 1019.4h0M1170.8 1015.4h0M1171.2 1014.8h0M1171.5 1018.9h0M1171.9 1013.5h0M1172.2 1017.7h0M1172.5 1010.3h0M1172.9 1013.2h0M1173.2 1013.4h0M1173.5 1015.9h0M1173.9 1013.9h0M1174.2 1021.1h0M1174.6 1017.5h0M1174.9 1011.4h0M1175.3 1021.1h0M1175.6 1009.1h0M1176.0 1019.2h0M1176.3 1009.1h0M1176.6 1015.2h0M1177.0 1008.6h0M1177.3 1011.0h0M1177.7 1017.4h0M1178.0 1006.2h0M1178.4 1005.2h0M1178.7 1011.0h0M1179.1 1011.6h0M1179.5 1011.0h0M1179.8 1014.0h0M1180.2 1005.6h0M1180.5 1011.9h0M1180.9 1009.7h0M1181.2 1012.5h0M1181.6 1011.6h0M1182.0 1014.0h0M1182.3 1003.8h0M1182.7 1009.2h0M1183.0 1004.5h0M1183.4 1008.1h0M1183.8 1010.7h0M1184.1 1009.0h0M1184.5 1009.8h0M1184.9 1007.3h0M1185.2 1008.6h0M1185.6 1008.1h0M1186.0 1012.2h0M1186.3 1009.7h0M1186.7 999.8h0M1187.1 1008.7h0M1187.4 1009.9h0M1187.8 1004.1h0M1188.2 999.5h0M1188.6 1010.4h0M1188.9 1005.1h0M1189.3 1006.5h0M1189.7 1010.6h0M1190.1 1000.4h0M1190.4 1003.0h0M1190.8 1002.3h0M1191.2 1005.1h0M1191.6 1000.0h0M1192.0 1003.6h0M1192.3 1001.7h0M1192.7 1005.1h0M1193.1 1005.2h0M1193.5 994.7h0M1193.9 1001.6h0M1194.3 998.1h0M1194.7 999.0h0M1195.0 1000.3h0M1195.4 1000.2h0M1195.8 995.3h0M1196.2 998.6h0M1196.6 997.6h0M1197.0 996.6h0M1197.4 991.7h0M1197.8 993.2h0M1198.2 994.0h0M1198.6 997.4h0M1199.0 1000.3h0M1199.4 990.7h0M1199.7 990.2h0M1200.1 994.2h0M1200.5 991.2h0M1200.9 989.8h0M1201.3 989.3h0M1201.7 988.5h0M1202.1 993.6h0M1202.6 985.4h0M1203.0 996.0h0M1203.4 987.3h0M1203.8 988.3h0M1204.2 986.5h0M1204.6 982.1h0M1205.0 983.3h0M1205.4 993.3h0M1205.8 995.1h0M1206.2 984.8h0M1206.6 991.6h0M1207.0 987.3h0M1207.4 983.6h0M1207.9 993.0h0M1208.3 994.4h0M1208.7 984.7h0M1209.1 985.2h0M1209.5 985.9h0M1209.9 984.4h0M1210.4 987.6h0M1210.8 989.8h0M1211.2 984.1h0M1211.6 986.8h0M1212.0 989.1h0M1212.5 980.2h0M1212.9 982.1h0M1213.3 979.8h0M1213.7 984.9h0M1214.1 983.2h0M1214.6 984.2h0M1215.0 983.4h0M1215.4 978.7h0M1215.9 982.2h0M1216.3 977.3h0M1216.7 976.9h0M1217.1 969.9h0M1217.6 983.0h0M1218.0 973.6h0M1218.4 977.0h0M1218.9 976.3h0M1219.3 981.6h0M1219.7 977.3h0M1220.2 972.1h0M1220.6 975.0h0M1221.1 973.9h0M1221.5 975.0h0M1221.9 968.9h0M1222.4 973.1h0M1222.8 981.3h0M1223.3 975.0h0M1223.7 979.6h0M1224.1 984.3h0M1224.6 973.1h0M1225.0 965.3h0M1225.5 970.0h0M1225.9 974.4h0M1226.4 973.1h0M1226.8 964.5h0M1227.3 967.9h0M1227.7 968.0h0M1228.2 967.9h0M1228.6 967.2h0M1229.1 963.7h0M1229.5 964.3h0M1230.0 965.2h0M1230.4 969.8h0M1230.9 963.2h0M1231.3 967.5h0M1231.8 960.1h0M1232.3 969.0h0M1232.7 964.1h0M1233.2 963.2h0M1233.6 968.1h0M1234.1 955.7h0M1234.6 956.4h0M1235.0 963.6h0M1235.5 958.4h0M1236.0 959.6h0M1236.4 971.1h0M1236.9 959.4h0M1237.3 960.3h0M1237.8 959.4h0M1238.3 963.6h0M1238.8 960.1h0M1239.2 959.4h0M1239.7 953.6h0M1240.2 956.6h0M1240.6 957.6h0M1241.1 951.2h0M1241.6 959.1h0M1242.1 958.1h0M1242.5 963.4h0M1243.0 949.6h0M1243.5 951.7h0M1244.0 951.5h0M1244.4 952.1h0M1244.9 954.0h0M1245.4 953.2h0M1245.9 954.7h0M1246.4 954.1h0M1246.8 952.7h0M1247.3 946.6h0M1247.8 950.0h0M1248.3 952.1h0M1248.8 953.8h0M1249.3 953.6h0M1249.8 944.4h0M1250.2 948.4h0M1250.7 949.8h0M1251.2 951.0h0M1251.7 953.7h0M1252.2 949.2h0M1252.7 945.1h0M1253.2 949.7h0M1253.7 948.7h0M1254.2 948.3h0M1254.7 946.6h0M1255.2 953.0h0M1255.7 947.3h0M1256.2 949.3h0M1256.7 942.1h0M1257.2 948.2h0M1257.7 942.5h0M1258.2 938.4h0M1258.7 945.3h0M1259.2 945.9h0M1259.7 942.3h0M1260.2 942.5h0M1260.7 945.9h0M1261.2 939.6h0M1261.7 932.9h0M1262.2 941.4h0M1262.7 940.6h0M1263.2 943.4h0M1263.7 937.5h0M1264.2 943.1h0M1264.8 942.0h0M1265.3 932.1h0M1265.8 940.2h0M1266.3 931.8h0M1266.8 929.5h0M1267.3 933.9h0M1267.8 932.2h0M1268.4 926.2h0M1268.9 934.1h0M1269.4 935.1h0M1269.9 937.6h0M1270.4 931.5h0M1271.0 925.3h0M1271.5 926.8h0M1272.0 933.8h0M1272.5 932.9h0M1273.0 930.9h0M1273.3 929.2h0M1275.2 925.8h0M1276.6 925.3h0M1279.1 923.2h0M1281.3 915.8h0M1283.3 919.4h0M1283.2 918.5h0M1284.9 922.3h0M1289.6 912.6h0M1290.6 918.7h0M1292.5 914.3h0M1295.5 903.5h0M1297.1 910.9h0M1297.8 908.3h0M1300.8 909.1h0M1303.2 907.2h0M1306.3 898.4h0M1308.4 901.2h0M1309.9 899.0h0M1311.1 898.6h0M1312.3 900.8h0M1316.6 893.8h0M1318.2 889.1h0M1318.3 894.0h0M1322.5 887.1h0M1324.1 883.9h0M1326.9 887.9h0M1327.9 881.2h0M1331.6 885.8h0M1334.7 875.9h0M1337.0 876.8h0M1337.5 878.5h0M1342.8 871.2h0M1344.1 871.4h0M1344.8 873.7h0M1346.5 864.6h0M1347.9 863.2h0M1351.9 865.8h0M1353.3 862.9h0M1356.2 860.7h0M1357.6 858.7h0M1359.8 859.7h0M1363.2 850.5h0M1363.9 852.4h0M1367.3 852.3h0M1371.4 847.4h0M1374.6 845.4h0M1375.7 842.9h0M1376.9 839.6h0M1380.0 836.8h0M1382.6 839.4h0M1385.0 834.1h0M1388.7 833.6h0M1390.0 834.8h0M1393.3 830.1h0M1392.9 827.5h0M1398.9 826.6h0M1398.8 824.4h0M1401.3 819.0h0M1404.2 819.7h0M1408.5 816.1h0M1410.9 814.7h0M1411.4 816.6h0M1417.8 806.8h0M1418.4 805.4h0M1420.9 803.0h0M1425.7 802.0h0M1424.1 803.4h0M1427.0 795.8h0M1432.3 796.1h0M1432.2 794.4h0M1438.4 796.1h0M1440.0 789.8h0M1443.4 786.9h0M1444.4 787.2h0M1446.2 777.3h0M1451.3 778.1h0M1451.8 781.9h0M1455.2 773.6h0M1458.4 771.1h0M1459.8 769.8h0M1464.0 762.2h0M1469.3 761.7h0M1468.6 762.1h0M1471.7 761.5h0M1475.2 759.2h0M1479.0 753.3h0M1481.3 751.5h0M1482.9 752.4h0M1486.4 748.2h0M1489.9 743.5h0M1490.7 742.7h0M1493.6 742.2h0M1497.9 742.6h0M1501.4 733.2h0M1504.0 732.6h0M1506.6 731.9h0M1509.7 728.0h0M1513.2 726.9h0M1516.4 720.3h0M1518.9 719.8h0M1522.8 719.9h0M1525.7 711.9h0M1528.5 709.1h0M1530.2 709.5h0M1535.1 703.3h0M1537.5 706.8h0M1541.1 696.0h0M1544.8 695.4h0M1544.2 693.9h0M1549.4 699.5h0M1553.2 693.1h0M1553.9 690.1h0M1560.8 683.4h0M1562.5 675.8h0M1567.6 676.7h0M1568.0 679.7h0M1570.5 672.7h0M1575.3 669.4h0M1579.4 668.4h0M1240.1 979.4h0M1265.9 950.2h0M1383.9 849.7h0M1512.9 702.0h0M1573.2 683.4h0M1506.7 736.1h0M1495.7 744.4h0M1577.5 661.9h0M1220.5 961.0h0M1301.7 908.4h0M1435.5 789.9h0M1473.8 752.8h0M1539.7 709.7h0M1557.4 685.8h0" stroke="#ff5500" stroke-width="8.4" stroke-linecap="round" fill="none"/>
<line x1="1100.04" y1="1081.49" x2="1578.90" y2="666.67" stroke="#000" stroke-width="4.5" stroke-dasharray="10.4 9.9"/>
<polyline points="1101.0,1135.7 1105.0,1135.7 1109.0,1135.7 1113.0,1135.7 1117.1,1135.7 1121.1,1135.7 1125.1,1135.7 1129.1,1135.7 1133.1,1135.7 1137.1,1135.7 1141.2,1135.7 1145.2,1135.7 1149.2,1135.7 1153.2,1135.7 1157.2,1135.7 1161.2,1135.7 1165.3,1135.7 1169.3,1135.7 1173.3,1135.7 1177.3,1135.7 1181.3,1135.7 1185.3,1135.7 1189.4,1135.6 1193.4,1135.6 1197.4,1135.5 1201.4,1135.4 1205.4,1135.3 1209.4,1135.2 1213.4,1135.0 1217.5,1134.8 1221.5,1134.7 1225.5,1134.5 1229.5,1134.3 1233.5,1134.1 1237.5,1133.9 1241.6,1133.7 1245.6,1133.4 1249.6,1133.0 1253.6,1132.6 1257.6,1132.1 1261.6,1131.6 1265.7,1131.0 1269.7,1130.3 1273.7,1129.6 1277.7,1128.9 1281.7,1128.2 1285.7,1127.5 1289.8,1126.7 1293.8,1126.0 1297.8,1125.2 1301.8,1124.4 1305.8,1123.6 1309.8,1122.7 1313.8,1121.8 1317.9,1120.8 1321.9,1119.8 1325.9,1118.8 1329.9,1117.7 1333.9,1116.5 1337.9,1115.4 1342.0,1114.1 1346.0,1112.8 1350.0,1111.4 1354.0,1109.9 1358.0,1108.3 1362.0,1106.7 1366.1,1104.9 1370.1,1103.2 1374.1,1101.4 1378.1,1099.5 1382.1,1097.7 1386.1,1095.8 1390.1,1093.9 1394.2,1091.9 1398.2,1089.8 1402.2,1087.7 1406.2,1085.6 1410.2,1083.4 1414.2,1081.1 1418.3,1078.8 1422.3,1076.5 1426.3,1074.2 1430.3,1071.8 1434.3,1069.4 1438.3,1067.0 1442.4,1064.6 1446.4,1062.1 1450.4,1059.6 1454.4,1057.1 1458.4,1054.5 1462.4,1051.9 1466.5,1049.3 1470.5,1046.6 1474.5,1043.8 1478.5,1041.0 1482.5,1038.2 1486.5,1035.2 1490.5,1032.2 1494.6,1029.0 1498.6,1025.8 1502.6,1022.6 1506.6,1019.2 1510.6,1015.9 1514.6,1012.5 1518.7,1009.1 1522.7,1005.6 1526.7,1002.2 1530.7,998.8 1534.7,995.5 1538.7,992.1 1542.8,988.7 1546.8,985.3 1550.8,981.8 1554.8,978.4 1558.8,974.9 1562.8,971.5 1566.9,968.0 1570.9,964.5 1574.9,961.0 1578.9,957.4" stroke="#666" stroke-width="3.4" fill="none"/>
<polygon points="1125.2,1080.6 1141.9,1072.0 1141.9,1076.5 1168,1076.5 1168,1084.7 1141.9,1084.7 1141.9,1089.0" fill="#000"/>
<text transform="translate(1179.80,1089.80) scale(1,1.041)" font-size="37.5" text-anchor="start" >4.6</text>
<text transform="translate(1341.30,1022.00) scale(1,1.041)" font-size="34" text-anchor="start" fill="#606060">Full gap</text>
<text transform="translate(124.50,543.80) scale(1,1.041)" font-size="37.5" text-anchor="middle" >0</text>
<text transform="translate(220.32,543.80) scale(1,1.041)" font-size="37.5" text-anchor="middle" >0.5</text>
<text transform="translate(316.14,543.80) scale(1,1.041)" font-size="37.5" text-anchor="middle" >1.0</text>
<text transform="translate(411.96,543.80) scale(1,1.041)" font-size="37.5" text-anchor="middle" >1.5</text>
<text transform="translate(507.78,543.80) scale(1,1.041)" font-size="37.5" text-anchor="middle" >2.0</text>
<text transform="translate(603.60,543.80) scale(1,1.041)" font-size="37.5" text-anchor="middle" >2.5</text>
<text transform="translate(117.10,514.60) scale(1,1.041)" font-size="37.5" text-anchor="end" >0</text>
<text transform="translate(117.10,427.51) scale(1,1.041)" font-size="37.5" text-anchor="end" >0.2</text>
<text transform="translate(117.10,340.42) scale(1,1.041)" font-size="37.5" text-anchor="end" >0.4</text>
<text transform="translate(117.10,253.33) scale(1,1.041)" font-size="37.5" text-anchor="end" >0.6</text>
<text transform="translate(117.10,166.24) scale(1,1.041)" font-size="37.5" text-anchor="end" >0.8</text>
<text transform="translate(117.10,79.15) scale(1,1.041)" font-size="37.5" text-anchor="end" >1.0</text>
<text transform="translate(805.00,546.40) scale(1,1.041)" font-size="37.5" text-anchor="middle" >0</text>
<text transform="translate(900.72,546.40) scale(1,1.041)" font-size="37.5" text-anchor="middle" >0.5</text>
<text transform="translate(996.44,546.40) scale(1,1.041)" font-size="37.5" text-anchor="middle" >1.0</text>
<text transform="translate(1092.16,546.40) scale(1,1.041)" font-size="37.5" text-anchor="middle" >1.5</text>
<text transform="translate(1187.88,546.40) scale(1,1.041)" font-size="37.5" text-anchor="middle" >2.0</text>
<text transform="translate(1283.60,546.40) scale(1,1.041)" font-size="37.5" text-anchor="middle" >2.5</text>
<text transform="translate(797.60,517.20) scale(1,1.041)" font-size="37.5" text-anchor="end" >0</text>
<text transform="translate(797.60,430.11) scale(1,1.041)" font-size="37.5" text-anchor="end" >0.2</text>
<text transform="translate(797.60,343.02) scale(1,1.041)" font-size="37.5" text-anchor="end" >0.4</text>
<text transform="translate(797.60,255.93) scale(1,1.041)" font-size="37.5" text-anchor="end" >0.6</text>
<text transform="translate(797.60,168.84) scale(1,1.041)" font-size="37.5" text-anchor="end" >0.8</text>
<text transform="translate(797.60,81.75) scale(1,1.041)" font-size="37.5" text-anchor="end" >1.0</text>
<text transform="translate(1498.70,542.90) scale(1,1.041)" font-size="37.5" text-anchor="middle" >0</text>
<text transform="translate(1594.10,542.90) scale(1,1.041)" font-size="37.5" text-anchor="middle" >0.5</text>
<text transform="translate(1689.50,542.90) scale(1,1.041)" font-size="37.5" text-anchor="middle" >1.0</text>
<text transform="translate(1784.90,542.90) scale(1,1.041)" font-size="37.5" text-anchor="middle" >1.5</text>
<text transform="translate(1880.30,542.90) scale(1,1.041)" font-size="37.5" text-anchor="middle" >2.0</text>
<text transform="translate(1975.70,542.90) scale(1,1.041)" font-size="37.5" text-anchor="middle" >2.5</text>
<text transform="translate(1491.30,513.70) scale(1,1.041)" font-size="37.5" text-anchor="end" >0</text>
<text transform="translate(1491.30,426.88) scale(1,1.041)" font-size="37.5" text-anchor="end" >0.2</text>
<text transform="translate(1491.30,340.06) scale(1,1.041)" font-size="37.5" text-anchor="end" >0.4</text>
<text transform="translate(1491.30,253.25) scale(1,1.041)" font-size="37.5" text-anchor="end" >0.6</text>
<text transform="translate(1491.30,166.43) scale(1,1.041)" font-size="37.5" text-anchor="end" >0.8</text>
<text transform="translate(1491.30,79.61) scale(1,1.041)" font-size="37.5" text-anchor="end" >1.0</text>
<text transform="translate(422.00,1178.20) scale(1,1.041)" font-size="37.5" text-anchor="middle" >0</text>
<text transform="translate(517.35,1178.20) scale(1,1.041)" font-size="37.5" text-anchor="middle" >0.5</text>
<text transform="translate(612.70,1178.20) scale(1,1.041)" font-size="37.5" text-anchor="middle" >1.0</text>
<text transform="translate(708.05,1178.20) scale(1,1.041)" font-size="37.5" text-anchor="middle" >1.5</text>
<text transform="translate(803.40,1178.20) scale(1,1.041)" font-size="37.5" text-anchor="middle" >2.0</text>
<text transform="translate(898.75,1178.20) scale(1,1.041)" font-size="37.5" text-anchor="middle" >2.5</text>
<text transform="translate(414.60,1149.00) scale(1,1.041)" font-size="37.5" text-anchor="end" >0</text>
<text transform="translate(414.60,1029.78) scale(1,1.041)" font-size="37.5" text-anchor="end" >100</text>
<text transform="translate(414.60,910.55) scale(1,1.041)" font-size="37.5" text-anchor="end" >200</text>
<text transform="translate(414.60,791.32) scale(1,1.041)" font-size="37.5" text-anchor="end" >300</text>
<text transform="translate(414.60,672.10) scale(1,1.041)" font-size="37.5" text-anchor="end" >400</text>
<text transform="translate(1101.00,1178.20) scale(1,1.041)" font-size="37.5" text-anchor="middle" >0</text>
<text transform="translate(1196.58,1178.20) scale(1,1.041)" font-size="37.5" text-anchor="middle" >0.02</text>
<text transform="translate(1292.16,1178.20) scale(1,1.041)" font-size="37.5" text-anchor="middle" >0.04</text>
<text transform="translate(1387.74,1178.20) scale(1,1.041)" font-size="37.5" text-anchor="middle" >0.06</text>
<text transform="translate(1483.32,1178.20) scale(1,1.041)" font-size="37.5" text-anchor="middle" >0.08</text>
<text transform="translate(1578.90,1178.20) scale(1,1.041)" font-size="37.5" text-anchor="middle" >0.10</text>
<text transform="translate(1093.60,1149.00) scale(1,1.041)" font-size="37.5" text-anchor="end" >0</text>
<text transform="translate(1093.60,1029.35) scale(1,1.041)" font-size="37.5" text-anchor="end" >10</text>
<text transform="translate(1093.60,909.70) scale(1,1.041)" font-size="37.5" text-anchor="end" >20</text>
<text transform="translate(1093.60,790.05) scale(1,1.041)" font-size="37.5" text-anchor="end" >30</text>
<text transform="translate(1093.60,670.40) scale(1,1.041)" font-size="37.5" text-anchor="end" >40</text>
<text transform="translate(364.05,603.30) scale(1,1.041)" font-size="37.5" text-anchor="middle"><tspan font-style="italic">T</tspan> (K)</text>
<text transform="translate(1044.30,605.90) scale(1,1.041)" font-size="37.5" text-anchor="middle"><tspan font-style="italic">T</tspan> (K)</text>
<text transform="translate(1737.20,602.40) scale(1,1.041)" font-size="37.5" text-anchor="middle"><tspan font-style="italic">T</tspan> (K)</text>
<text transform="translate(28.70,261.80) rotate(-90) scale(1,1.041)" font-size="37.5" text-anchor="middle">Δ<tspan font-style="italic">f</tspan>(<tspan font-style="italic">T</tspan>)/Δ<tspan font-style="italic">f</tspan>(2.2 K)</text>
<text transform="translate(709.20,264.40) rotate(-90) scale(1,1.041)" font-size="37.5" text-anchor="middle">Δ<tspan font-style="italic">f</tspan>(<tspan font-style="italic">T</tspan>)/Δ<tspan font-style="italic">f</tspan>(2 K)</text>
<text transform="translate(1402.90,261.65) rotate(-90) scale(1,1.041)" font-size="37.5" text-anchor="middle">Δ<tspan font-style="italic">f</tspan>(<tspan font-style="italic">T</tspan>)/Δ<tspan font-style="italic">f</tspan>(2 K)</text>
<text transform="translate(661.88,1236.70) scale(1,1.041)" font-size="37" text-anchor="middle"><tspan font-style="italic">T</tspan> (K)</text>
<text transform="translate(316.80,895.75) rotate(-90) scale(1,1.041)" font-size="37" text-anchor="middle"><tspan font-style="italic">C</tspan>/<tspan font-style="italic">T</tspan> (mJ K<tspan font-size="24" dy="-24">-2</tspan><tspan dy="24" dx="3.5">mol</tspan><tspan font-size="24" dy="-24">-1</tspan><tspan dy="24">)</tspan></text>
<text transform="translate(1286.20,1231.10) scale(1,1.041)" font-size="37" text-anchor="start">(<tspan font-style="italic">T</tspan>/<tspan font-style="italic">T</tspan><tspan font-size="26" dy="8.6">c</tspan><tspan dy="-8.6">)</tspan><tspan font-size="26" dy="-24.4">2</tspan></text>
<text transform="translate(1014.70,894.90) rotate(-90) scale(1,1.041)" font-size="37" text-anchor="middle">C<tspan font-size="26" dy="8.6">e</tspan><tspan dy="-8.6">/</tspan><tspan font-style="italic">T</tspan> (mJ K<tspan font-size="24" dy="-24">-2</tspan><tspan dy="24" dx="3.5">mol</tspan><tspan font-size="24" dy="-24">-1</tspan><tspan dy="24">)</tspan></text>
<text transform="translate(-2.00,41.00) scale(1,1)" font-size="57" text-anchor="start" font-weight="bold">a</text>
<text transform="translate(682.60,41.20) scale(1,1)" font-size="57" text-anchor="start" font-weight="bold">b</text>
<text transform="translate(1372.00,41.60) scale(1,1)" font-size="57" text-anchor="start" font-weight="bold">c</text>
<text transform="translate(272.00,672.00) scale(1,1)" font-size="56.5" text-anchor="start" font-weight="bold">d</text>
<text transform="translate(950.60,672.30) scale(1,1)" font-size="57.5" text-anchor="start" font-weight="bold">e</text>
<text transform="translate(178.10,150.20) scale(1,1.041)" font-size="34"><tspan letter-spacing="1.3">UTe</tspan><tspan font-size="24" dy="7.5" dx="-0.5">2</tspan><tspan dy="-7.5" letter-spacing="-1.1"> #A1</tspan></text>
<circle cx="214.90" cy="183.00" r="10.3" fill="#ff0000"/>
<text transform="translate(259.10,193.60) scale(1,1.041)" font-size="34"><tspan font-style="italic">H</tspan><tspan font-size="27" dy="7.5">ω</tspan><tspan dy="-7.5"> // </tspan><tspan font-style="italic">a</tspan></text>
<circle cx="214.90" cy="226.30" r="10.3" fill="#00aaff"/>
<text transform="translate(259.10,236.90) scale(1,1.041)" font-size="34"><tspan font-style="italic">H</tspan><tspan font-size="27" dy="7.5">ω</tspan><tspan dy="-7.5"> // </tspan><tspan font-style="italic">b</tspan></text>
<circle cx="214.90" cy="269.60" r="10.3" fill="#cccc00"/>
<text transform="translate(259.10,280.20) scale(1,1.041)" font-size="34"><tspan font-style="italic">H</tspan><tspan font-size="27" dy="7.5">ω</tspan><tspan dy="-7.5"> // </tspan><tspan font-style="italic">c</tspan></text>
<text transform="translate(863.80,140.50) scale(1,1.041)" font-size="34"><tspan letter-spacing="1.3">UTe</tspan><tspan font-size="24" dy="7.5" dx="-0.5">2</tspan><tspan dy="-7.5" letter-spacing="-1.1"> #B1</tspan></text>
<circle cx="900.60" cy="173.30" r="10.3" fill="#ff0000"/>
<text transform="translate(944.80,183.90) scale(1,1.041)" font-size="34"><tspan font-style="italic">H</tspan><tspan font-size="27" dy="7.5">ω</tspan><tspan dy="-7.5"> // </tspan><tspan font-style="italic">a</tspan></text>
<circle cx="900.60" cy="216.60" r="10.3" fill="#00aaff"/>
<text transform="translate(944.80,227.20) scale(1,1.041)" font-size="34"><tspan font-style="italic">H</tspan><tspan font-size="27" dy="7.5">ω</tspan><tspan dy="-7.5"> // </tspan><tspan font-style="italic">b</tspan></text>
<circle cx="900.60" cy="259.90" r="10.3" fill="#cccc00"/>
<text transform="translate(944.80,270.50) scale(1,1.041)" font-size="34"><tspan font-style="italic">H</tspan><tspan font-size="27" dy="7.5">ω</tspan><tspan dy="-7.5"> // </tspan><tspan font-style="italic">c</tspan></text>
<text transform="translate(1546.70,137.90) scale(1,1.041)" font-size="34"><tspan letter-spacing="1.3">UTe</tspan><tspan font-size="24" dy="7.5" dx="-0.5">2</tspan><tspan dy="-7.5" letter-spacing="-1.1"> #C1</tspan></text>
<circle cx="1583.50" cy="170.70" r="10.3" fill="#ff0000"/>
<text transform="translate(1627.70,181.30) scale(1,1.041)" font-size="34"><tspan font-style="italic">H</tspan><tspan font-size="27" dy="7.5">ω</tspan><tspan dy="-7.5"> // </tspan><tspan font-style="italic">a</tspan></text>
<circle cx="1583.50" cy="214.00" r="10.3" fill="#00aaff"/>
<text transform="translate(1627.70,224.60) scale(1,1.041)" font-size="34"><tspan font-style="italic">H</tspan><tspan font-size="27" dy="7.5">ω</tspan><tspan dy="-7.5"> // </tspan><tspan font-style="italic">b</tspan></text>
<circle cx="1583.50" cy="257.30" r="10.3" fill="#cccc00"/>
<text transform="translate(1627.70,267.90) scale(1,1.041)" font-size="34"><tspan font-style="italic">H</tspan><tspan font-size="27" dy="7.5">ω</tspan><tspan dy="-7.5"> // </tspan><tspan font-style="italic">c</tspan></text>
<circle cx="470" cy="740.60" r="9.9" fill="#ff5500"/>
<text transform="translate(513.30,750.20) scale(1,1.041)" font-size="32" text-anchor="start" >#A1 (MSF)</text>
<circle cx="470" cy="776.00" r="9.9" fill="#ff00cc"/>
<text transform="translate(513.30,785.60) scale(1,1.041)" font-size="32" text-anchor="start" >#B1 (CVT)</text>
<circle cx="470" cy="811.40" r="9.9" fill="#0000ff"/>
<text transform="translate(513.30,821.00) scale(1,1.041)" font-size="32" text-anchor="start" >#C1 (CVT)</text>
<circle cx="1166.5" cy="751" r="10.5" fill="#ff5500"/>
<text transform="translate(1211.20,761.25) scale(1,1.041)" font-size="34" text-anchor="start" >#A1 (MSF)</text>
</g></svg></body></html>
